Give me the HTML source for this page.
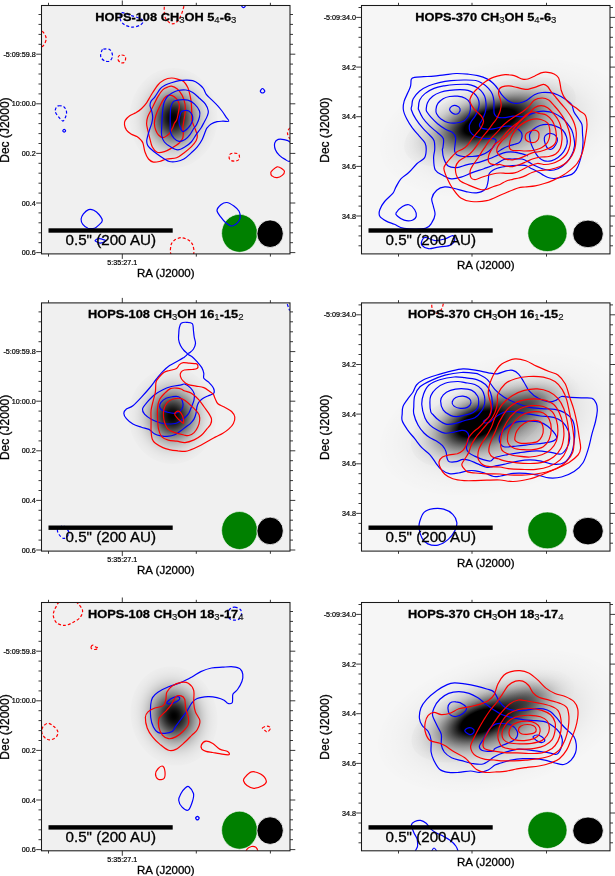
<!DOCTYPE html>
<html><head><meta charset="utf-8"><style>
html,body{margin:0;padding:0;background:#fff;width:615px;height:876px;overflow:hidden}
svg{display:block}
text{font-family:"Liberation Sans",sans-serif}
svg{will-change:transform}
</style></head><body>
<svg width="615" height="876" viewBox="0 0 615 876">
<defs>

<radialGradient id="g0"><stop offset="0.00" stop-color="#000" stop-opacity="0.380"/><stop offset="0.05" stop-color="#000" stop-opacity="0.376"/><stop offset="0.10" stop-color="#000" stop-opacity="0.363"/><stop offset="0.15" stop-color="#000" stop-opacity="0.343"/><stop offset="0.20" stop-color="#000" stop-opacity="0.317"/><stop offset="0.25" stop-color="#000" stop-opacity="0.287"/><stop offset="0.30" stop-color="#000" stop-opacity="0.253"/><stop offset="0.35" stop-color="#000" stop-opacity="0.219"/><stop offset="0.40" stop-color="#000" stop-opacity="0.185"/><stop offset="0.45" stop-color="#000" stop-opacity="0.153"/><stop offset="0.50" stop-color="#000" stop-opacity="0.123"/><stop offset="0.55" stop-color="#000" stop-opacity="0.097"/><stop offset="0.60" stop-color="#000" stop-opacity="0.075"/><stop offset="0.65" stop-color="#000" stop-opacity="0.057"/><stop offset="0.70" stop-color="#000" stop-opacity="0.042"/><stop offset="0.75" stop-color="#000" stop-opacity="0.030"/><stop offset="0.80" stop-color="#000" stop-opacity="0.021"/><stop offset="0.85" stop-color="#000" stop-opacity="0.015"/><stop offset="0.90" stop-color="#000" stop-opacity="0.010"/><stop offset="0.95" stop-color="#000" stop-opacity="0.007"/><stop offset="1.00" stop-color="#000" stop-opacity="0.004"/></radialGradient>
<radialGradient id="g1"><stop offset="0.00" stop-color="#000" stop-opacity="0.550"/><stop offset="0.05" stop-color="#000" stop-opacity="0.544"/><stop offset="0.10" stop-color="#000" stop-opacity="0.526"/><stop offset="0.15" stop-color="#000" stop-opacity="0.497"/><stop offset="0.20" stop-color="#000" stop-opacity="0.459"/><stop offset="0.25" stop-color="#000" stop-opacity="0.415"/><stop offset="0.30" stop-color="#000" stop-opacity="0.367"/><stop offset="0.35" stop-color="#000" stop-opacity="0.317"/><stop offset="0.40" stop-color="#000" stop-opacity="0.268"/><stop offset="0.45" stop-color="#000" stop-opacity="0.221"/><stop offset="0.50" stop-color="#000" stop-opacity="0.179"/><stop offset="0.55" stop-color="#000" stop-opacity="0.141"/><stop offset="0.60" stop-color="#000" stop-opacity="0.109"/><stop offset="0.65" stop-color="#000" stop-opacity="0.082"/><stop offset="0.70" stop-color="#000" stop-opacity="0.061"/><stop offset="0.75" stop-color="#000" stop-opacity="0.044"/><stop offset="0.80" stop-color="#000" stop-opacity="0.031"/><stop offset="0.85" stop-color="#000" stop-opacity="0.021"/><stop offset="0.90" stop-color="#000" stop-opacity="0.014"/><stop offset="0.95" stop-color="#000" stop-opacity="0.009"/><stop offset="1.00" stop-color="#000" stop-opacity="0.006"/></radialGradient>
<radialGradient id="g2"><stop offset="0.00" stop-color="#000" stop-opacity="1.000"/><stop offset="0.05" stop-color="#000" stop-opacity="0.989"/><stop offset="0.10" stop-color="#000" stop-opacity="0.956"/><stop offset="0.15" stop-color="#000" stop-opacity="0.904"/><stop offset="0.20" stop-color="#000" stop-opacity="0.835"/><stop offset="0.25" stop-color="#000" stop-opacity="0.755"/><stop offset="0.30" stop-color="#000" stop-opacity="0.667"/><stop offset="0.35" stop-color="#000" stop-opacity="0.576"/><stop offset="0.40" stop-color="#000" stop-opacity="0.487"/><stop offset="0.45" stop-color="#000" stop-opacity="0.402"/><stop offset="0.50" stop-color="#000" stop-opacity="0.325"/><stop offset="0.55" stop-color="#000" stop-opacity="0.256"/><stop offset="0.60" stop-color="#000" stop-opacity="0.198"/><stop offset="0.65" stop-color="#000" stop-opacity="0.149"/><stop offset="0.70" stop-color="#000" stop-opacity="0.110"/><stop offset="0.75" stop-color="#000" stop-opacity="0.080"/><stop offset="0.80" stop-color="#000" stop-opacity="0.056"/><stop offset="0.85" stop-color="#000" stop-opacity="0.039"/><stop offset="0.90" stop-color="#000" stop-opacity="0.026"/><stop offset="0.95" stop-color="#000" stop-opacity="0.017"/><stop offset="1.00" stop-color="#000" stop-opacity="0.011"/></radialGradient>
<radialGradient id="g3"><stop offset="0.00" stop-color="#000" stop-opacity="1.000"/><stop offset="0.05" stop-color="#000" stop-opacity="1.000"/><stop offset="0.10" stop-color="#000" stop-opacity="1.000"/><stop offset="0.15" stop-color="#000" stop-opacity="1.000"/><stop offset="0.20" stop-color="#000" stop-opacity="1.000"/><stop offset="0.25" stop-color="#000" stop-opacity="1.000"/><stop offset="0.30" stop-color="#000" stop-opacity="1.000"/><stop offset="0.35" stop-color="#000" stop-opacity="0.864"/><stop offset="0.40" stop-color="#000" stop-opacity="0.730"/><stop offset="0.45" stop-color="#000" stop-opacity="0.603"/><stop offset="0.50" stop-color="#000" stop-opacity="0.487"/><stop offset="0.55" stop-color="#000" stop-opacity="0.385"/><stop offset="0.60" stop-color="#000" stop-opacity="0.297"/><stop offset="0.65" stop-color="#000" stop-opacity="0.224"/><stop offset="0.70" stop-color="#000" stop-opacity="0.165"/><stop offset="0.75" stop-color="#000" stop-opacity="0.119"/><stop offset="0.80" stop-color="#000" stop-opacity="0.084"/><stop offset="0.85" stop-color="#000" stop-opacity="0.058"/><stop offset="0.90" stop-color="#000" stop-opacity="0.039"/><stop offset="0.95" stop-color="#000" stop-opacity="0.026"/><stop offset="1.00" stop-color="#000" stop-opacity="0.017"/></radialGradient>
<clipPath id="cp00"><rect x="41.5" y="5.5" width="248.5" height="248.4"/></clipPath>
<clipPath id="cp01"><rect x="361.5" y="5.5" width="248.5" height="248.4"/></clipPath>
<clipPath id="cp10"><rect x="41.5" y="302.9" width="248.5" height="248.2"/></clipPath>
<clipPath id="cp11"><rect x="361.5" y="302.9" width="248.5" height="248.2"/></clipPath>
<clipPath id="cp20"><rect x="41.5" y="602.5" width="248.5" height="248.3"/></clipPath>
<clipPath id="cp21"><rect x="361.5" y="602.5" width="248.5" height="248.3"/></clipPath>
</defs>

<rect x="41.5" y="5.5" width="248.5" height="248.4" fill="#f0f0f0"/>
<rect x="361.5" y="5.5" width="248.5" height="248.4" fill="#f6f6f6"/>
<rect x="41.5" y="302.9" width="248.5" height="248.2" fill="#f0f0f0"/>
<rect x="361.5" y="302.9" width="248.5" height="248.2" fill="#f6f6f6"/>
<rect x="41.5" y="602.5" width="248.5" height="248.3" fill="#f0f0f0"/>
<rect x="361.5" y="602.5" width="248.5" height="248.3" fill="#f6f6f6"/>
<g clip-path="url(#cp00)"><ellipse cx="173.5" cy="118.0" rx="44.0" ry="50.0" transform="rotate(0.0 173.5 118.0)" fill="url(#g2)"/></g>
<g clip-path="url(#cp01)"><ellipse cx="490.0" cy="122.0" rx="90.0" ry="36.0" transform="rotate(-19.0 490.0 122.0)" fill="url(#g3)"/></g>
<g clip-path="url(#cp01)"><ellipse cx="503.0" cy="128.0" rx="125.0" ry="66.0" transform="rotate(-12.0 503.0 128.0)" fill="url(#g0)"/></g>
<g clip-path="url(#cp10)"><ellipse cx="172.5" cy="416.0" rx="44.0" ry="48.0" transform="rotate(0.0 172.5 416.0)" fill="url(#g2)"/></g>
<g clip-path="url(#cp11)"><ellipse cx="479.0" cy="424.0" rx="72.0" ry="37.0" transform="rotate(-22.0 479.0 424.0)" fill="url(#g3)"/></g>
<g clip-path="url(#cp11)"><ellipse cx="502.0" cy="424.0" rx="125.0" ry="66.0" transform="rotate(-15.0 502.0 424.0)" fill="url(#g0)"/></g>
<g clip-path="url(#cp11)"><ellipse cx="527.0" cy="405.0" rx="55.0" ry="30.0" transform="rotate(-20.0 527.0 405.0)" fill="url(#g1)"/></g>
<g clip-path="url(#cp20)"><ellipse cx="174.0" cy="716.0" rx="43.0" ry="50.0" transform="rotate(-15.0 174.0 716.0)" fill="url(#g2)"/></g>
<g clip-path="url(#cp21)"><ellipse cx="482.0" cy="721.0" rx="74.0" ry="35.0" transform="rotate(-20.0 482.0 721.0)" fill="url(#g3)"/></g>
<g clip-path="url(#cp21)"><ellipse cx="522.0" cy="703.0" rx="55.0" ry="28.0" transform="rotate(-22.0 522.0 703.0)" fill="url(#g1)"/></g>
<g clip-path="url(#cp21)"><ellipse cx="500.0" cy="721.0" rx="125.0" ry="66.0" transform="rotate(-15.0 500.0 721.0)" fill="url(#g0)"/></g>
<ellipse cx="239.5" cy="233.3" rx="17.9" ry="19" fill="#008000" stroke="#fff" stroke-width="0.6"/>
<ellipse cx="270.1" cy="233.7" rx="13.2" ry="13.8" fill="#000" stroke="#fff" stroke-width="0.8"/>
<ellipse cx="547.4" cy="233.2" rx="19.6" ry="18.4" fill="#008000" stroke="#fff" stroke-width="0.6"/>
<ellipse cx="588.0" cy="233.9" rx="15.3" ry="13.8" fill="#000" stroke="#fff" stroke-width="0.8"/>
<ellipse cx="239.5" cy="530.5" rx="17.9" ry="19" fill="#008000" stroke="#fff" stroke-width="0.6"/>
<ellipse cx="270.1" cy="530.9" rx="13.2" ry="13.8" fill="#000" stroke="#fff" stroke-width="0.8"/>
<ellipse cx="547.4" cy="530.4" rx="19.6" ry="18.4" fill="#008000" stroke="#fff" stroke-width="0.6"/>
<ellipse cx="588.0" cy="531.1" rx="15.3" ry="13.8" fill="#000" stroke="#fff" stroke-width="0.8"/>
<ellipse cx="239.5" cy="830.2" rx="17.9" ry="19" fill="#008000" stroke="#fff" stroke-width="0.6"/>
<ellipse cx="270.1" cy="830.6" rx="13.2" ry="13.8" fill="#000" stroke="#fff" stroke-width="0.8"/>
<ellipse cx="547.4" cy="830.1" rx="19.6" ry="18.4" fill="#008000" stroke="#fff" stroke-width="0.6"/>
<ellipse cx="588.0" cy="830.8" rx="15.3" ry="13.8" fill="#000" stroke="#fff" stroke-width="0.8"/>
<path d="M124.5,124.9C124.3,123.3 124.3,121.9 125.2,120.4C126.1,118.9 127.9,117.1 129.7,115.8C131.5,114.5 134.2,113.8 136.2,112.6C138.1,111.4 139.7,110.3 141.4,108.7C143.1,107.1 145.0,105.1 146.6,102.8C148.2,100.5 149.3,98.0 151.2,95.0C153.1,92.0 155.8,87.5 157.9,85.0C160.0,82.5 161.7,81.2 164.0,80.0C166.3,78.8 169.1,78.1 171.5,78.0C173.9,77.9 176.2,78.7 178.3,79.3C180.4,79.9 182.3,80.3 183.9,81.7C185.5,83.1 186.8,85.5 187.8,87.6C188.8,89.7 189.2,92.0 189.8,94.4C190.4,96.8 190.9,99.4 191.2,102.2C191.5,105.0 191.6,108.0 191.7,111.0C191.8,114.0 191.7,118.1 191.8,120.0C191.9,121.9 191.8,120.8 192.4,122.4C193.0,124.0 194.7,127.6 195.5,129.8C196.3,132.1 197.2,134.1 197.3,135.9C197.4,137.7 197.1,138.9 196.1,140.7C195.1,142.5 193.2,144.8 191.2,146.8C189.2,148.8 186.3,151.1 183.9,152.9C181.5,154.7 179.4,156.8 176.6,157.8C173.8,158.8 169.7,158.4 166.8,159.0C164.0,159.6 161.7,161.0 159.5,161.5C157.3,162.0 155.2,162.5 153.4,162.1C151.6,161.7 149.9,160.7 148.5,159.0C147.1,157.3 145.8,154.3 144.9,151.7C144.0,149.1 143.7,145.2 143.0,143.2C142.3,141.2 141.8,141.0 140.8,139.9C139.8,138.8 138.5,137.6 136.9,136.6C135.3,135.6 132.7,135.1 131.0,134.0C129.3,132.9 127.6,131.6 126.5,130.1C125.4,128.6 124.7,126.5 124.5,124.9Z" fill="none" stroke="#ff0000" stroke-width="1.2" clip-path="url(#cp00)"/>
<path d="M171.5,86.1C173.1,86.4 175.5,87.5 177.3,89.0C179.1,90.5 180.9,92.9 182.2,95.4C183.5,97.9 184.5,101.2 185.0,104.0C185.5,106.8 185.4,109.3 185.2,112.0C185.0,114.7 184.4,117.5 184.0,120.0C183.6,122.5 183.1,125.0 183.0,127.0C182.9,129.0 183.4,130.3 183.3,132.2C183.2,134.1 183.4,136.5 182.7,138.3C182.0,140.1 180.8,141.6 179.0,143.2C177.2,144.8 174.1,146.6 171.7,148.0C169.3,149.4 166.8,151.0 164.4,151.7C162.0,152.4 159.1,153.1 157.1,152.3C155.1,151.5 153.4,149.1 152.2,146.8C151.0,144.5 150.6,141.2 149.8,138.3C149.0,135.4 148.1,132.0 147.6,129.5C147.1,127.0 146.6,125.5 146.6,123.4C146.6,121.4 146.8,119.6 147.6,117.2C148.4,114.8 150.0,112.4 151.7,109.0C153.4,105.6 156.1,99.8 157.9,96.6C159.7,93.4 161.1,91.4 162.7,89.8C164.3,88.2 166.0,87.7 167.5,87.1C169.0,86.5 169.9,85.8 171.5,86.1Z" fill="none" stroke="#ff0000" stroke-width="1.2" clip-path="url(#cp00)"/>
<path d="M168.1,95.3C169.5,94.8 170.8,95.0 172.2,95.6C173.6,96.2 175.3,97.5 176.4,98.7C177.5,99.9 178.3,101.6 178.8,103.0C179.3,104.4 179.4,105.2 179.3,107.1C179.2,109.0 178.4,112.3 178.0,114.5C177.6,116.7 177.2,118.5 176.6,120.0C176.0,121.5 174.9,122.2 174.3,123.4C173.7,124.6 173.6,125.8 172.9,127.3C172.2,128.8 171.2,130.9 170.2,132.3C169.2,133.7 168.1,134.8 166.8,135.7C165.6,136.6 164.1,137.8 162.7,137.7C161.3,137.6 159.7,136.2 158.5,135.0C157.3,133.8 156.5,132.1 155.8,130.2C155.1,128.3 154.4,125.8 154.4,123.4C154.4,121.0 155.0,118.4 155.8,115.8C156.6,113.2 157.8,110.4 159.2,107.6C160.6,104.8 162.5,100.8 164.0,98.7C165.5,96.7 166.7,95.8 168.1,95.3Z" fill="none" stroke="#ff0000" stroke-width="1.2" clip-path="url(#cp00)"/>
<path d="M165.4,85.0C167.2,84.0 169.2,83.4 171.5,82.7C173.8,82.0 176.9,81.1 179.3,80.7C181.7,80.3 183.7,80.2 185.9,80.2C188.1,80.2 190.6,80.1 192.7,80.7C194.8,81.3 196.7,82.4 198.5,83.7C200.3,85.0 202.1,86.7 203.4,88.5C204.7,90.3 205.0,92.6 206.3,94.4C207.6,96.2 209.4,97.5 211.2,99.3C213.0,101.1 215.3,103.1 217.1,105.1C218.9,107.0 220.5,109.0 222.0,111.0C223.5,113.0 224.8,115.1 225.9,116.8C227.0,118.5 229.3,120.5 228.8,121.2C228.3,121.9 224.9,121.1 222.9,121.2C220.9,121.3 219.1,121.2 217.1,121.7C215.1,122.2 212.8,123.1 211.2,124.1C209.6,125.1 208.2,126.6 207.3,127.6C206.4,128.6 206.8,128.0 205.9,130.0C205.1,132.0 203.6,136.7 202.2,139.5C200.8,142.3 199.1,144.6 197.3,146.8C195.5,149.0 193.4,150.9 191.2,152.9C189.0,154.9 186.3,157.6 183.9,159.0C181.5,160.4 179.0,161.1 176.6,161.5C174.2,161.9 171.3,161.9 169.3,161.5C167.3,161.1 166.4,160.2 164.4,159.0C162.4,157.8 159.5,155.9 157.1,154.1C154.7,152.3 151.4,149.5 149.8,148.0C148.2,146.5 148.0,146.2 147.5,145.0C147.0,143.8 146.7,142.4 146.7,141.0C146.7,139.6 147.1,138.3 147.6,136.4C148.1,134.5 148.9,131.7 149.6,129.5C150.3,127.3 151.2,125.5 151.7,123.4C152.2,121.4 152.7,119.3 152.7,117.2C152.7,115.1 152.1,113.0 151.7,111.0C151.2,109.0 150.1,107.1 150.0,105.5C149.9,103.9 150.2,102.9 151.0,101.4C151.8,99.9 153.5,98.8 155.1,96.6C156.7,94.4 158.9,90.3 160.6,88.4C162.3,86.5 163.6,86.0 165.4,85.0Z" fill="none" stroke="#0000ff" stroke-width="1.2" clip-path="url(#cp00)"/>
<path d="M178.0,90.5C180.4,90.0 183.5,89.7 185.9,90.0C188.3,90.3 190.4,91.0 192.7,92.4C195.0,93.8 197.4,96.3 199.5,98.3C201.6,100.2 203.9,102.0 205.4,104.1C206.9,106.2 208.0,109.0 208.3,111.0C208.6,113.0 208.0,114.1 207.3,115.9C206.7,117.7 205.5,119.7 204.4,121.7C203.3,123.7 202.4,125.8 201.0,128.0C199.6,130.2 197.7,132.3 196.1,134.6C194.5,136.9 193.0,140.0 191.2,142.0C189.4,144.0 187.3,145.5 185.1,146.8C182.9,148.1 180.2,149.9 177.8,149.9C175.4,149.9 172.7,148.1 170.5,146.8C168.3,145.5 165.9,144.0 164.4,142.0C162.9,140.0 162.0,137.8 161.6,135.0C161.2,132.2 161.7,128.3 161.8,125.0C161.9,121.7 162.1,117.8 162.3,115.0C162.5,112.2 162.7,110.0 163.0,108.0C163.3,106.0 163.4,104.6 164.0,102.8C164.6,101.0 165.5,98.9 166.8,97.3C168.1,95.7 169.7,94.3 171.6,93.2C173.5,92.1 175.6,91.0 178.0,90.5Z" fill="none" stroke="#0000ff" stroke-width="1.2" clip-path="url(#cp00)"/>
<path d="M173.6,101.4C175.1,100.2 177.6,100.0 180.0,99.8C182.4,99.6 185.4,99.5 187.8,100.2C190.2,100.9 192.7,102.3 194.6,104.1C196.5,105.9 198.7,108.9 199.5,111.0C200.3,113.1 200.0,114.5 199.5,116.8C199.0,119.1 197.6,122.6 196.6,124.6C195.6,126.5 194.8,126.8 193.7,128.5C192.6,130.2 191.4,132.8 190.0,134.6C188.6,136.4 186.9,138.4 185.1,139.5C183.3,140.6 180.8,141.5 179.0,141.3C177.2,141.1 175.5,139.8 174.1,138.3C172.7,136.8 171.2,134.4 170.5,132.2C169.8,130.0 170.2,127.7 170.2,125.0C170.1,122.3 170.1,118.8 170.2,115.8C170.3,112.8 170.3,109.3 170.9,106.9C171.5,104.5 172.1,102.6 173.6,101.4Z" fill="none" stroke="#0000ff" stroke-width="1.2" clip-path="url(#cp00)"/>
<path d="M179.3,117.8C179.7,116.1 180.3,113.2 181.2,112.0C182.1,110.8 183.2,110.7 184.5,110.5C185.8,110.3 187.5,110.3 188.8,111.0C190.1,111.7 191.5,113.4 192.2,114.9C192.8,116.4 192.9,118.2 192.7,119.8C192.4,121.4 191.5,123.1 190.7,124.6C189.8,126.0 188.9,127.3 187.6,128.5C186.3,129.7 183.9,131.8 182.7,131.6C181.5,131.4 180.8,128.9 180.2,127.3C179.6,125.7 179.2,123.6 179.0,122.0C178.8,120.4 178.9,119.5 179.3,117.8Z" fill="none" stroke="#0000ff" stroke-width="1.2" clip-path="url(#cp00)"/>
<path d="M121.6,12.8C123.3,12.2 127.9,14.5 130.7,15.4C133.5,16.3 136.5,17.1 138.6,18.0C140.7,18.9 143.0,19.9 143.2,21.1C143.4,22.3 141.8,24.3 139.9,25.3C138.0,26.3 134.6,27.2 132.0,27.1C129.4,27.0 126.2,25.8 124.2,24.5C122.2,23.2 120.7,21.2 120.3,19.3C119.9,17.4 119.9,13.5 121.6,12.8Z" fill="none" stroke="#0000ff" stroke-width="1.2" stroke-dasharray="3,2" clip-path="url(#cp00)"/>
<path d="M165.5,2.0C163.8,4.9 164.1,12.1 164.6,15.4C165.1,18.7 167.0,20.5 168.5,21.9C170.0,23.3 172.0,24.1 173.7,23.7C175.4,23.3 177.4,21.6 178.9,19.3C180.4,17.1 182.0,13.1 182.8,10.2C183.6,7.3 184.9,4.0 183.6,2.0C182.3,-0.0 178.0,-2.0 175.0,-2.0C172.0,-2.0 167.2,-0.9 165.5,2.0Z" fill="none" stroke="#ff0000" stroke-width="1.2" stroke-dasharray="3,2" clip-path="url(#cp00)"/>
<path d="M38.0,31.0C38.8,28.6 41.6,30.7 43.0,32.0C44.4,33.3 46.2,36.5 46.2,38.8C46.2,41.1 44.4,44.7 43.0,46.0C41.6,47.3 38.8,49.1 38.0,46.6C37.2,44.1 37.2,33.4 38.0,31.0Z" fill="none" stroke="#ff0000" stroke-width="1.2" stroke-dasharray="3,2" clip-path="url(#cp00)"/>
<path d="M103.4,49.2C104.8,48.9 108.4,48.6 109.9,49.7C111.4,50.8 112.5,53.8 112.5,55.7C112.5,57.6 111.2,60.0 109.9,60.9C108.6,61.8 106.2,61.5 104.7,60.9C103.2,60.2 101.3,58.5 100.8,57.0C100.2,55.5 101.0,53.1 101.4,51.8C101.8,50.5 102.0,49.6 103.4,49.2Z" fill="none" stroke="#0000ff" stroke-width="1.2" stroke-dasharray="3,2" clip-path="url(#cp00)"/>
<path d="M121.6,55.0C122.6,55.0 124.1,55.3 124.8,56.0C125.5,56.7 125.7,57.9 125.6,59.0C125.5,60.1 124.8,61.9 124.0,62.5C123.2,63.1 121.5,63.0 120.5,62.5C119.5,62.0 118.3,60.6 118.0,59.5C117.7,58.4 118.2,56.8 118.8,56.0C119.4,55.2 120.6,55.0 121.6,55.0Z" fill="none" stroke="#ff0000" stroke-width="1.2" stroke-dasharray="3,2" clip-path="url(#cp00)"/>
<path d="M58.6,105.8C59.9,105.7 62.5,105.8 63.8,106.7C65.1,107.6 66.0,109.7 66.4,111.2C66.8,112.7 66.5,114.2 66.0,115.8C65.5,117.4 64.2,120.7 63.1,121.0C62.0,121.3 60.5,119.2 59.2,117.7C57.9,116.2 55.8,113.6 55.3,111.9C54.8,110.2 55.8,108.3 56.3,107.3C56.8,106.3 57.4,105.9 58.6,105.8Z" fill="none" stroke="#0000ff" stroke-width="1.2" stroke-dasharray="3,2" clip-path="url(#cp00)"/>
<path d="M64.2,129.3C64.7,129.3 65.6,130.2 65.6,130.7C65.6,131.2 64.7,132.1 64.2,132.1C63.7,132.1 62.8,131.2 62.8,130.7C62.8,130.2 63.7,129.3 64.2,129.3Z" fill="none" stroke="#0000ff" stroke-width="1.2" clip-path="url(#cp00)"/>
<path d="M262.5,88.5C263.2,88.5 264.8,90.5 264.8,91.2C264.8,92.0 263.2,93.0 262.5,93.0C261.8,93.0 260.3,92.0 260.3,91.2C260.3,90.5 261.8,88.5 262.5,88.5Z" fill="none" stroke="#0000ff" stroke-width="1.2" clip-path="url(#cp00)"/>
<path d="M234.3,153.1C235.8,153.1 238.1,153.4 238.9,154.5C239.7,155.6 239.7,158.4 238.9,159.5C238.1,160.6 235.8,161.1 234.3,161.1C232.8,161.1 230.5,160.6 229.7,159.5C228.9,158.4 228.9,155.6 229.7,154.5C230.5,153.4 232.8,153.1 234.3,153.1Z" fill="none" stroke="#ff0000" stroke-width="1.2" stroke-dasharray="3,2" clip-path="url(#cp00)"/>
<path d="M290.0,142.2C288.0,140.1 286.0,140.1 284.0,139.6C282.0,139.1 279.7,138.9 278.2,139.4C276.7,139.9 275.3,141.1 274.8,142.8C274.3,144.5 274.6,147.6 275.4,149.7C276.2,151.8 277.8,153.8 279.4,155.4C281.0,157.0 283.3,158.5 285.1,159.4C286.9,160.3 288.2,162.3 290.0,161.1C291.8,159.9 296.0,155.2 296.0,152.0C296.0,148.8 292.0,144.3 290.0,142.2Z" fill="none" stroke="#0000ff" stroke-width="1.2" clip-path="url(#cp00)"/>
<path d="M290.0,128.0C289.1,128.0 287.5,131.2 287.5,133.0C287.5,134.8 289.1,138.5 290.0,138.5C290.9,138.5 293.0,134.8 293.0,133.0C293.0,131.2 290.9,128.0 290.0,128.0Z" fill="none" stroke="#ff0000" stroke-width="1.2" stroke-dasharray="3,2" clip-path="url(#cp00)"/>
<path d="M272.5,170.2C273.6,169.2 275.6,167.1 277.1,166.8C278.6,166.5 280.5,167.7 281.7,168.5C282.9,169.3 284.4,170.2 284.5,171.4C284.6,172.6 283.4,174.4 282.2,175.4C281.0,176.4 278.8,177.5 277.1,177.6C275.4,177.7 273.1,176.8 272.0,175.9C270.9,175.1 270.7,173.4 270.8,172.5C270.9,171.6 271.4,171.1 272.5,170.2Z" fill="none" stroke="#ff0000" stroke-width="1.2" clip-path="url(#cp00)"/>
<path d="M88.6,209.6C90.3,209.0 92.1,209.5 93.8,210.3C95.5,211.1 97.6,212.8 99.0,214.5C100.4,216.2 102.3,218.7 102.3,220.4C102.3,222.1 100.3,223.6 99.0,224.9C97.7,226.2 96.3,227.6 94.5,228.2C92.7,228.8 90.0,228.8 88.0,228.2C86.0,227.5 84.0,225.8 82.8,224.3C81.6,222.8 81.0,220.8 81.1,219.1C81.2,217.4 82.2,215.5 83.4,213.9C84.7,212.3 86.9,210.2 88.6,209.6Z" fill="none" stroke="#0000ff" stroke-width="1.2" clip-path="url(#cp00)"/>
<path d="M95.1,240.5C95.4,239.9 97.5,238.7 99.0,238.6C100.5,238.5 103.1,239.5 104.2,239.9C105.3,240.3 106.2,240.7 105.5,241.2C104.8,241.7 101.7,242.9 100.3,243.1C98.9,243.2 98.0,242.5 97.1,242.1C96.2,241.7 94.8,241.1 95.1,240.5Z" fill="none" stroke="#0000ff" stroke-width="1.2" clip-path="url(#cp00)"/>
<path d="M171.5,255.0C169.7,252.9 170.5,248.1 170.9,245.7C171.3,243.3 172.4,241.8 174.1,240.5C175.8,239.2 178.8,237.7 181.3,237.7C183.8,237.7 187.2,239.2 189.1,240.5C191.0,241.8 192.3,243.3 193.0,245.7C193.7,248.1 194.8,252.9 193.0,255.0C191.2,257.1 185.6,258.0 182.0,258.0C178.4,258.0 173.3,257.1 171.5,255.0Z" fill="none" stroke="#ff0000" stroke-width="1.2" stroke-dasharray="3,2" clip-path="url(#cp00)"/>
<path d="M217.0,210.6C217.0,208.6 219.3,206.2 220.9,204.8C222.5,203.5 224.6,202.3 226.8,202.5C229.0,202.7 231.9,204.6 233.9,206.1C235.9,207.6 238.1,209.4 239.1,211.3C240.1,213.2 240.4,216.0 240.2,217.8C240.0,219.6 239.2,220.9 237.8,222.3C236.4,223.7 233.9,225.9 232.0,226.0C230.1,226.1 227.9,224.5 226.1,223.0C224.2,221.5 222.4,219.2 220.9,217.1C219.4,215.0 217.0,212.6 217.0,210.6Z" fill="none" stroke="#0000ff" stroke-width="1.2" clip-path="url(#cp00)"/>
<path d="M241.5,5.6C241.5,6.1 242.8,7.6 243.5,7.6C244.2,7.6 245.5,6.1 245.5,5.6C245.5,5.1 244.2,4.5 243.5,4.5C242.8,4.5 241.5,5.1 241.5,5.6Z" fill="none" stroke="#0000ff" stroke-width="1.2" clip-path="url(#cp00)"/>
<path d="M449.6,109.2C449.7,108.1 451.1,106.6 452.2,106.0C453.3,105.4 454.8,105.2 456.1,105.6C457.4,106.0 459.6,107.3 460.0,108.6C460.4,109.8 459.6,112.2 458.7,113.1C457.8,114.0 456.0,114.3 454.8,114.2C453.6,114.1 452.5,113.3 451.6,112.5C450.7,111.7 449.5,110.3 449.6,109.2Z" fill="none" stroke="#0000ff" stroke-width="1.2" clip-path="url(#cp01)"/>
<path d="M436.0,109.2C436.2,107.5 436.7,105.1 437.9,103.4C439.1,101.7 441.2,100.0 443.1,98.8C445.1,97.6 447.2,96.9 449.6,96.5C452.0,96.1 454.8,95.9 457.4,96.2C460.0,96.5 463.1,97.1 465.2,98.2C467.3,99.3 468.9,100.9 469.8,102.7C470.7,104.5 470.6,107.0 470.4,109.2C470.2,111.4 469.6,113.8 468.5,115.7C467.4,117.7 466.0,119.7 463.9,120.9C461.8,122.1 458.8,122.7 456.1,123.0C453.4,123.3 450.3,123.2 447.8,122.5C445.3,121.8 442.9,120.5 441.0,119.1C439.1,117.6 437.4,115.4 436.6,113.8C435.8,112.2 435.8,110.9 436.0,109.2Z" fill="none" stroke="#0000ff" stroke-width="1.2" clip-path="url(#cp01)"/>
<path d="M471.5,121.0C472.4,119.5 473.8,118.3 474.8,116.6C475.9,114.9 477.1,112.9 477.8,110.8C478.5,108.7 479.2,106.1 479.2,104.0C479.2,101.9 478.7,99.9 477.8,98.1C476.9,96.3 475.5,94.5 473.9,93.2C472.3,91.9 470.3,90.9 468.0,90.3C465.7,89.7 463.1,89.7 460.0,89.7C456.9,89.7 452.9,90.0 449.6,90.4C446.4,90.8 443.3,91.3 440.5,92.3C437.7,93.3 434.9,94.5 432.7,96.2C430.5,97.9 428.6,100.5 427.5,102.7C426.4,104.9 426.3,107.7 426.2,109.2C426.1,110.8 426.2,110.7 427.0,112.0C427.8,113.3 428.9,114.8 430.7,116.8C432.5,118.8 435.1,121.6 437.6,123.7C440.1,125.8 443.0,127.8 445.5,129.3C448.0,130.8 451.0,131.2 452.7,132.6C454.4,134.0 455.2,135.6 455.6,137.5C456.0,139.4 455.3,142.1 455.1,144.3C454.9,146.6 454.3,149.2 454.6,151.0C454.9,152.8 455.6,154.2 457.1,155.1C458.6,156.0 460.9,156.3 463.4,156.5C465.9,156.7 469.3,156.7 472.2,156.5C475.1,156.3 478.2,156.0 481.0,155.1C483.8,154.2 486.7,152.7 488.8,151.2C490.9,149.7 492.5,148.1 493.7,146.3C494.9,144.5 496.3,141.7 496.1,140.4C495.9,139.1 494.7,138.8 492.7,138.5C490.7,138.2 486.8,138.9 483.9,138.5C481.0,138.1 477.4,137.1 475.1,136.0C472.8,134.9 471.2,133.4 470.2,131.7C469.2,130.0 469.1,127.6 469.3,125.8C469.5,124.0 470.6,122.5 471.5,121.0Z" fill="none" stroke="#0000ff" stroke-width="1.2" clip-path="url(#cp01)"/>
<path d="M528.0,155.9C526.9,155.5 523.7,154.3 521.4,153.7C519.1,153.1 516.5,152.4 514.1,152.2C511.7,151.9 509.2,151.8 506.8,152.2C504.4,152.6 502.4,153.3 499.5,154.4C496.6,155.5 492.6,157.5 489.2,158.8C485.8,160.1 482.6,161.4 479.0,162.4C475.4,163.4 471.0,163.7 467.3,164.6C463.6,165.5 460.2,167.3 457.0,167.6C453.8,167.8 450.4,167.6 448.2,166.1C446.0,164.6 444.9,161.5 443.9,158.8C442.9,156.1 442.5,151.9 442.4,150.0C442.2,148.1 442.9,149.2 443.0,147.3C443.1,145.4 444.2,140.9 443.3,138.5C442.4,136.1 439.9,134.9 437.6,132.8C435.3,130.7 432.1,128.4 429.6,125.9C427.1,123.4 424.6,120.7 422.8,118.0C421.0,115.3 419.5,111.7 418.8,110.0C418.1,108.3 418.2,109.6 418.4,107.9C418.5,106.2 418.6,102.5 419.7,100.1C420.8,97.7 422.5,95.5 424.9,93.6C427.3,91.6 430.8,89.7 434.0,88.4C437.2,87.1 440.7,86.5 444.4,85.8C448.1,85.1 452.2,84.7 456.1,84.5C460.0,84.3 464.9,84.1 468.0,84.4C471.1,84.7 472.7,85.4 474.8,86.4C476.9,87.4 479.1,88.7 480.7,90.3C482.3,91.9 483.7,94.0 484.6,96.1C485.5,98.2 485.8,100.5 486.0,103.0C486.2,105.5 486.0,108.5 485.6,110.8C485.2,113.1 484.3,114.9 483.6,116.6C482.9,118.3 482.2,119.7 481.5,121.0C480.8,122.3 479.6,123.4 479.5,124.5C479.4,125.6 479.8,127.0 481.0,127.8C482.2,128.6 484.5,129.0 486.8,129.2C489.1,129.3 491.8,129.2 494.6,128.7C497.5,128.2 501.0,126.7 503.9,126.3C506.8,125.9 509.4,125.9 511.7,126.3C514.0,126.7 515.9,127.6 517.5,128.7C519.1,129.8 520.7,131.1 521.4,132.6C522.1,134.1 522.2,135.9 521.9,137.5C521.6,139.1 520.7,141.3 519.5,142.4C518.3,143.5 516.6,143.7 514.6,144.3C512.6,145.0 509.9,145.5 507.8,146.3C505.7,147.1 503.7,148.2 501.9,149.2C500.1,150.2 497.8,151.9 497.0,152.5" fill="none" stroke="#0000ff" stroke-width="1.2" clip-path="url(#cp01)"/>
<path d="M411.9,105.3C412.2,103.4 411.9,101.2 413.2,98.8C414.5,96.4 417.1,93.2 419.7,91.0C422.3,88.8 425.6,87.2 428.8,85.8C432.1,84.4 435.5,83.5 439.2,82.6C442.9,81.7 446.8,81.0 450.9,80.6C455.0,80.2 459.8,80.0 463.9,80.0C468.0,80.0 472.7,79.9 475.8,80.5C478.9,81.1 480.5,82.2 482.6,83.5C484.7,84.8 486.9,86.5 488.5,88.3C490.1,90.1 491.5,92.1 492.4,94.2C493.3,96.3 493.6,98.6 493.9,101.0C494.1,103.4 493.8,106.7 493.9,108.8C494.0,110.9 493.7,112.3 494.3,113.7C494.9,115.1 495.5,116.4 497.3,117.1C499.1,117.8 502.5,117.8 505.1,117.6C507.7,117.4 510.3,116.3 512.9,116.1C515.5,115.9 518.7,116.5 520.7,116.6C522.7,116.6 523.3,116.8 525.0,116.4C526.7,116.0 528.6,114.9 530.7,114.1C532.8,113.3 535.0,112.3 537.5,111.8C540.0,111.3 542.8,111.1 545.5,111.3C548.2,111.5 550.9,112.0 553.5,113.0C556.1,114.0 559.1,115.8 561.4,117.5C563.7,119.2 565.4,121.1 567.1,123.2C568.8,125.3 570.6,127.5 571.7,130.0C572.8,132.5 573.4,135.3 573.9,138.0C574.4,140.7 574.9,143.2 574.5,146.0C574.1,148.8 573.1,152.3 571.7,155.1C570.3,157.9 568.3,160.7 566.0,163.0C563.7,165.3 560.7,167.5 558.0,168.7C555.3,169.9 552.6,170.4 550.0,170.4C547.4,170.4 544.8,169.5 542.1,168.7C539.5,167.8 536.4,166.4 534.1,165.3C531.8,164.2 530.4,163.0 528.4,161.9C526.4,160.8 524.6,159.5 522.0,159.0C519.4,158.5 515.6,158.9 512.6,159.0C509.6,159.1 506.9,158.5 503.9,159.5C500.9,160.5 497.9,163.3 494.6,164.8C491.3,166.3 487.6,167.4 483.9,168.7C480.2,170.0 476.0,171.2 472.2,172.6C468.4,174.0 464.6,176.2 461.1,177.2C457.6,178.2 454.3,179.1 451.3,178.8C448.3,178.5 445.9,177.0 443.2,175.5C440.5,174.0 436.9,172.9 435.3,170.0C433.7,167.1 433.7,161.2 433.6,157.8C433.5,154.4 434.6,152.7 434.7,149.8C434.8,147.0 435.0,143.2 434.1,140.7C433.2,138.2 431.5,137.1 429.6,135.0C427.7,132.9 425.1,130.8 422.8,128.2C420.5,125.5 417.8,122.1 415.9,119.1C414.0,116.1 412.1,112.3 411.4,110.0C410.7,107.7 411.6,107.2 411.9,105.3Z" fill="none" stroke="#0000ff" stroke-width="1.2" clip-path="url(#cp01)"/>
<path d="M404.1,101.4C404.9,98.5 406.9,94.9 408.0,92.3C409.1,89.7 410.1,88.0 410.6,85.8C411.2,83.6 410.7,80.7 411.3,79.3C411.9,77.9 412.4,77.8 414.5,77.4C416.6,77.0 420.4,76.9 423.6,76.7C426.9,76.5 430.5,76.4 434.0,76.1C437.5,75.8 440.7,75.2 444.4,74.8C448.1,74.4 452.2,73.6 456.1,73.5C460.0,73.4 464.4,73.8 468.0,74.2C471.6,74.6 474.6,74.9 477.8,75.7C481.1,76.5 484.9,77.8 487.5,79.1C490.1,80.4 491.6,81.8 493.4,83.5C495.2,85.2 496.8,87.3 498.2,89.3C499.6,91.2 500.6,93.4 502.1,95.2C503.6,97.0 505.2,98.7 507.0,100.0C508.8,101.3 510.8,102.5 512.9,103.0C515.0,103.5 517.4,103.4 519.7,103.0C522.0,102.6 524.0,101.9 526.5,100.5C529.0,99.1 531.9,96.0 534.5,94.7C537.1,93.4 539.7,92.8 542.2,92.5C544.8,92.2 547.3,92.3 549.8,92.7C552.3,93.1 554.9,93.7 557.4,94.7C559.9,95.8 562.6,97.4 565.0,99.0C567.4,100.6 570.1,102.4 571.6,104.5C573.1,106.6 572.8,109.4 573.9,111.8C575.0,114.2 577.2,116.6 578.5,118.7C579.8,120.8 581.2,121.8 581.9,124.3C582.6,126.8 582.3,130.4 582.5,133.5C582.7,136.6 583.1,139.4 583.0,142.6C582.9,145.8 582.5,149.6 581.9,152.8C581.3,156.0 580.5,159.1 579.6,161.9C578.7,164.8 577.5,167.8 576.2,169.9C574.9,172.0 573.8,173.3 571.7,174.4C569.6,175.5 566.4,176.0 563.7,176.7C561.0,177.4 558.2,178.2 555.7,178.4C553.2,178.6 551.2,178.5 548.9,177.8C546.6,177.1 544.2,175.5 542.1,174.4C540.0,173.3 538.3,172.0 536.4,171.0C534.5,170.0 532.6,169.1 530.7,168.2C528.8,167.2 528.0,165.7 525.0,165.3C522.0,164.9 517.4,165.1 512.8,165.6C508.2,166.1 501.1,166.9 497.2,168.2C493.3,169.5 490.9,171.2 489.4,173.4C487.9,175.6 488.8,178.6 488.1,181.2C487.5,183.8 487.4,187.1 485.5,189.0C483.6,190.9 479.6,192.5 476.4,192.9C473.1,193.3 469.6,192.3 466.0,191.6C462.4,190.9 458.1,189.3 454.6,188.5C451.1,187.7 447.8,186.6 444.8,186.9C441.8,187.2 438.9,188.3 436.7,190.2C434.5,192.1 432.4,195.6 431.8,198.3C431.2,201.0 432.9,203.7 433.4,206.4C433.9,209.1 435.3,211.9 435.0,214.6C434.7,217.3 433.4,220.4 431.8,222.7C430.2,225.0 429.9,227.4 425.3,228.4C420.7,229.4 409.2,229.1 404.1,228.4C399.0,227.7 397.4,225.5 394.4,224.3C391.4,223.1 388.7,222.4 386.3,221.1C383.9,219.8 380.9,218.1 379.8,216.2C378.7,214.3 379.0,212.1 379.8,209.7C380.6,207.2 382.4,204.2 384.6,201.5C386.8,198.8 390.9,195.8 392.8,193.4C394.7,191.0 394.6,189.3 396.0,186.9C397.4,184.5 398.7,181.2 400.9,178.8C403.1,176.4 406.3,174.9 409.0,172.3C411.7,169.8 414.5,165.9 417.1,163.5C419.7,161.1 423.0,160.1 424.5,157.8C426.0,155.5 426.1,152.3 426.2,149.8C426.3,147.3 426.1,145.3 425.0,143.0C423.9,140.7 421.4,138.7 419.3,136.2C417.2,133.7 414.6,131.0 412.5,128.2C410.4,125.3 408.3,122.1 406.8,119.1C405.3,116.1 403.8,113.0 403.4,110.0C402.9,107.0 403.3,104.4 404.1,101.4Z" fill="none" stroke="#0000ff" stroke-width="1.2" clip-path="url(#cp01)"/>
<path d="M544.3,138.0C544.5,136.3 545.5,135.3 546.6,134.6C547.8,133.8 549.7,133.3 551.2,133.5C552.7,133.7 554.7,134.6 555.7,135.7C556.7,136.8 557.4,138.8 557.4,140.3C557.4,141.8 556.6,143.4 555.7,144.8C554.9,146.2 553.5,148.1 552.3,148.8C551.1,149.5 549.4,149.5 548.3,148.8C547.2,148.1 546.2,146.6 545.5,144.8C544.8,143.0 544.1,139.7 544.3,138.0Z" fill="none" stroke="#0000ff" stroke-width="1.2" clip-path="url(#cp01)"/>
<path d="M529.6,134.6C530.0,132.4 531.3,131.0 533.0,129.5C534.7,128.0 537.3,126.4 539.8,125.5C542.3,124.6 545.1,124.2 547.8,124.3C550.4,124.4 553.2,125.1 555.7,126.1C558.2,127.0 560.8,128.2 562.6,130.0C564.4,131.8 565.8,134.6 566.5,136.9C567.2,139.2 567.6,141.2 567.1,143.7C566.6,146.2 565.2,149.4 563.7,151.7C562.2,154.0 560.1,155.9 558.0,157.4C555.9,158.9 553.5,160.2 551.2,160.8C548.9,161.4 546.4,161.4 544.3,160.8C542.2,160.2 540.4,159.1 538.7,157.4C537.0,155.7 535.4,153.0 534.1,150.5C532.8,148.0 531.5,145.2 530.7,142.6C530.0,139.9 529.2,136.8 529.6,134.6Z" fill="none" stroke="#0000ff" stroke-width="1.2" clip-path="url(#cp01)"/>
<path d="M396.0,212.9C396.8,211.3 400.3,207.8 402.5,206.4C404.7,205.1 407.0,204.2 409.0,204.8C411.0,205.4 413.5,207.8 414.7,209.7C415.9,211.6 416.7,214.4 416.3,216.2C415.9,217.9 414.3,219.5 412.3,220.2C410.3,220.9 406.6,220.9 404.1,220.2C401.7,219.5 399.0,217.4 397.6,216.2C396.2,215.0 395.2,214.5 396.0,212.9Z" fill="none" stroke="#0000ff" stroke-width="1.2" clip-path="url(#cp01)"/>
<path d="M422.0,240.6C422.6,239.2 423.1,237.3 425.3,237.3C427.5,237.3 431.8,240.3 435.0,240.6C438.2,240.9 441.8,239.7 444.8,238.9C447.8,238.1 451.3,235.4 452.9,235.7C454.5,236.0 455.1,239.0 454.6,240.6C454.1,242.2 452.4,244.3 449.7,245.4C447.0,246.5 441.8,246.6 438.3,247.1C434.8,247.6 431.2,249.0 428.5,248.7C425.8,248.4 423.1,246.8 422.0,245.4C420.9,244.1 421.4,241.9 422.0,240.6Z" fill="none" stroke="#0000ff" stroke-width="1.2" clip-path="url(#cp01)"/>
<path d="M443.9,168.7C443.7,166.3 444.8,165.7 445.9,163.9C447.0,162.1 448.9,160.0 450.7,158.0C452.5,156.0 454.7,153.6 456.6,152.1C458.6,150.6 460.6,150.3 462.4,149.2C464.2,148.1 465.7,147.1 467.3,145.3C468.9,143.5 470.6,140.6 472.2,138.5C473.8,136.4 475.6,134.4 477.1,132.6C478.6,130.8 479.9,129.7 481.0,127.8C482.1,126.0 483.4,123.4 483.5,121.5C483.6,119.6 482.6,118.1 481.7,116.6C480.8,115.1 479.1,114.0 477.8,112.7C476.5,111.4 475.0,110.2 473.9,108.8C472.8,107.3 471.5,105.6 470.9,104.0C470.2,102.4 469.5,101.1 470.0,99.1C470.5,97.1 472.3,94.3 473.9,92.2C475.5,90.1 477.8,88.2 479.7,86.4C481.6,84.6 483.7,82.9 485.6,81.5C487.6,80.1 489.4,79.0 491.4,78.1C493.3,77.2 495.0,76.7 497.3,76.1C499.6,75.5 502.7,74.8 505.1,74.7C507.5,74.6 509.9,74.9 511.9,75.2C513.8,75.5 515.0,75.9 516.8,76.6C518.6,77.3 520.7,78.8 522.6,79.2C524.5,79.6 526.0,79.5 528.0,79.0C530.0,78.5 532.3,77.2 534.5,76.2C536.7,75.2 538.9,73.6 541.1,72.9C543.3,72.2 545.4,72.1 547.6,72.3C549.8,72.5 552.3,73.1 554.1,74.0C555.9,74.9 557.5,76.2 558.5,77.8C559.5,79.4 559.6,81.7 560.1,83.8C560.6,85.9 560.6,88.1 561.2,90.3C561.9,92.5 562.6,94.7 564.0,96.9C565.4,99.1 567.4,101.6 569.4,103.4C571.4,105.2 574.0,106.5 575.9,107.8C577.8,109.1 578.9,110.3 580.5,111.5C582.1,112.7 584.2,113.1 585.3,115.2C586.4,117.3 586.9,121.1 587.0,124.3C587.1,127.5 586.4,131.2 585.9,134.6C585.4,138.0 584.9,141.6 584.2,144.8C583.5,148.0 583.0,150.9 581.9,153.9C580.8,156.9 579.3,160.3 577.4,163.0C575.5,165.7 573.0,167.8 570.5,169.9C568.0,172.0 565.4,173.9 562.6,175.6C559.8,177.3 556.5,178.8 553.5,180.1C550.5,181.4 547.3,182.6 544.3,183.5C541.2,184.4 538.4,185.2 535.2,185.8C532.0,186.4 527.9,186.6 525.0,187.0C522.1,187.4 521.8,186.8 518.0,188.0C514.2,189.2 507.6,192.1 502.4,194.2C497.2,196.3 492.0,199.5 486.8,200.7C481.6,201.9 475.5,201.9 471.2,201.5C466.9,201.1 463.8,200.2 460.8,198.1C457.8,196.0 455.3,192.3 453.0,189.0C450.7,185.7 448.5,181.4 447.0,178.0C445.5,174.6 444.1,171.0 443.9,168.7Z" fill="none" stroke="#ff0000" stroke-width="1.2" clip-path="url(#cp01)"/>
<path d="M499.2,89.3C499.8,88.1 500.5,87.5 502.1,86.9C503.7,86.3 506.6,85.8 509.0,85.9C511.4,86.0 514.5,86.9 516.8,87.4C519.1,87.9 520.7,88.5 522.6,88.8C524.5,89.1 525.8,89.6 528.0,89.3C530.2,89.0 533.1,87.9 535.6,87.1C538.1,86.3 541.3,84.4 543.3,84.3C545.3,84.2 546.3,85.3 547.6,86.5C548.9,87.7 549.5,89.5 550.9,91.4C552.3,93.3 554.5,95.8 556.3,98.0C558.1,100.2 560.0,102.3 561.8,104.5C563.6,106.7 565.6,108.8 567.2,111.0C568.8,113.2 570.4,115.4 571.6,117.6C572.8,119.8 573.7,121.6 574.5,124.0C575.3,126.4 576.0,129.3 576.2,132.0C576.5,134.7 576.2,137.3 576.0,140.0C575.8,142.7 575.7,145.4 575.0,148.0C574.3,150.6 573.3,153.2 572.0,155.5C570.7,157.8 569.0,160.2 567.0,162.0C565.0,163.8 562.8,165.2 560.0,166.5C557.2,167.8 553.3,168.8 550.0,169.5C546.7,170.2 543.0,170.0 540.0,170.5C537.0,171.0 534.3,171.7 532.0,172.5C529.7,173.3 528.4,174.5 526.3,175.4C524.2,176.3 521.8,177.2 519.5,177.8C517.2,178.5 515.0,178.7 512.7,179.3C510.4,179.9 508.0,180.3 505.9,181.2C503.8,182.1 502.1,183.6 500.0,184.5C497.9,185.4 495.9,185.7 493.6,186.5C491.3,187.3 488.5,189.0 486.3,189.5C484.1,190.0 483.3,190.2 480.4,189.5C477.5,188.8 472.1,186.6 468.7,185.1C465.3,183.6 462.1,182.4 460.0,180.7C457.9,179.0 457.0,177.2 456.3,174.9C455.6,172.6 455.2,169.3 455.6,167.0C456.1,164.7 457.5,162.6 459.0,161.0C460.5,159.4 462.5,158.8 464.4,157.5C466.3,156.2 468.6,154.9 470.2,153.5C471.8,152.1 472.6,151.0 474.1,149.2C475.6,147.3 477.5,144.5 479.0,142.4C480.5,140.3 481.4,138.4 482.9,136.5C484.4,134.6 486.2,132.8 487.8,130.7C489.4,128.6 491.2,125.9 492.7,123.9C494.1,122.0 495.5,120.5 496.5,119.0C497.5,117.5 497.9,116.4 498.5,115.0C499.1,113.6 499.8,112.5 500.2,110.8C500.6,109.1 501.2,106.9 501.2,104.9C501.2,103.0 500.6,100.9 500.2,99.1C499.8,97.3 498.9,95.8 498.7,94.2C498.5,92.6 498.6,90.5 499.2,89.3Z" fill="none" stroke="#ff0000" stroke-width="1.2" clip-path="url(#cp01)"/>
<path d="M507.0,122.0C509.2,120.3 512.2,118.3 514.8,116.6C517.4,114.9 520.4,113.3 522.6,111.8C524.8,110.2 526.0,109.2 528.0,107.3C530.0,105.3 532.1,101.6 534.5,100.1C536.9,98.5 539.8,98.0 542.2,98.0C544.6,98.0 546.7,98.8 548.7,100.1C550.7,101.4 552.3,103.6 554.1,105.6C555.9,107.6 558.0,109.9 559.6,112.1C561.2,114.3 562.8,116.5 564.0,118.7C565.2,120.9 566.1,122.6 567.0,125.0C567.9,127.4 568.9,130.3 569.5,133.0C570.1,135.7 570.6,138.3 570.5,141.0C570.4,143.7 569.8,146.7 569.0,149.0C568.2,151.3 567.4,153.2 565.9,155.0C564.4,156.8 562.3,158.6 560.0,160.0C557.7,161.4 554.5,162.8 552.0,163.5C549.5,164.2 547.5,164.5 545.0,164.5C542.5,164.5 539.7,163.2 537.1,163.5C534.5,163.8 531.8,165.0 529.3,166.0C526.8,167.0 524.8,168.3 522.4,169.5C520.0,170.7 517.2,172.2 514.6,172.9C512.0,173.6 509.2,173.4 506.8,173.4C504.4,173.4 502.3,172.9 500.0,173.0C497.7,173.1 495.8,173.3 492.9,174.0C490.0,174.7 485.3,176.1 482.5,177.0C479.7,177.9 477.9,179.3 476.0,179.5C474.1,179.7 472.2,179.5 471.2,178.0C470.2,176.5 469.9,172.9 470.2,170.7C470.5,168.5 471.9,166.9 473.2,164.8C474.5,162.7 476.7,159.9 478.0,158.0C479.3,156.1 479.9,154.9 481.0,153.1C482.1,151.3 483.6,149.2 484.9,147.3C486.2,145.4 487.3,143.4 488.8,141.4C490.3,139.4 492.1,137.4 493.7,135.6C495.3,133.8 497.2,132.1 498.5,130.7C499.8,129.3 500.1,128.4 501.5,127.0C502.9,125.5 504.8,123.7 507.0,122.0Z" fill="none" stroke="#ff0000" stroke-width="1.2" clip-path="url(#cp01)"/>
<path d="M518.7,122.0C520.5,120.6 521.5,119.8 523.0,118.5C524.5,117.2 526.1,116.3 528.0,114.5C529.9,112.7 532.3,109.3 534.5,107.8C536.7,106.3 538.9,105.6 541.1,105.6C543.3,105.6 545.6,106.5 547.6,107.8C549.6,109.1 551.5,111.4 553.1,113.2C554.7,115.0 556.2,116.9 557.4,118.7C558.5,120.5 559.3,122.1 560.0,124.0C560.7,125.9 561.1,127.5 561.4,130.0C561.7,132.5 562.2,136.1 562.0,139.1C561.8,142.1 561.3,145.7 560.3,148.2C559.2,150.7 557.6,152.6 555.7,154.0C553.8,155.4 551.2,156.0 548.8,156.5C546.3,157.0 543.6,156.6 541.0,157.0C538.4,157.4 535.7,158.0 533.2,158.8C530.8,159.6 528.6,160.7 526.3,161.7C524.0,162.7 521.8,163.8 519.5,164.6C517.2,165.4 515.0,166.3 512.7,166.6C510.4,166.8 508.0,166.4 505.9,166.1C503.8,165.8 501.6,164.7 500.0,164.5C498.4,164.3 498.2,164.9 496.6,164.8C495.1,164.7 492.1,164.6 490.7,163.9C489.3,163.2 488.6,162.4 488.3,160.9C488.0,159.4 488.2,157.1 488.8,155.1C489.4,153.1 490.7,151.0 491.7,149.2C492.7,147.4 493.2,145.8 494.6,144.3C496.0,142.8 498.1,142.3 500.0,140.4C501.9,138.5 504.0,135.2 506.0,133.0C508.0,130.8 509.9,128.8 512.0,127.0C514.1,125.2 516.9,123.4 518.7,122.0Z" fill="none" stroke="#ff0000" stroke-width="1.2" clip-path="url(#cp01)"/>
<path d="M531.8,111.8C534.1,111.5 537.3,112.9 539.8,113.5C542.3,114.1 544.5,114.0 546.6,115.2C548.7,116.4 550.9,118.8 552.3,120.9C553.7,123.0 554.5,125.5 555.2,127.8C555.9,130.1 556.2,132.3 556.3,134.6C556.4,136.9 556.5,139.6 556.0,141.4C555.5,143.2 554.9,144.2 553.4,145.5C551.9,146.8 549.4,148.0 547.2,149.0C545.0,150.0 542.5,150.8 540.0,151.5C537.5,152.2 534.6,152.2 532.2,152.9C529.8,153.6 527.5,155.0 525.4,155.9C523.3,156.8 521.6,157.7 519.5,158.3C517.4,159.0 515.1,159.7 512.7,159.8C510.3,159.9 507.0,159.4 504.9,158.8C502.8,158.2 501.3,157.1 500.0,156.0C498.7,154.9 497.4,153.5 497.0,152.0C496.6,150.5 496.8,148.7 497.5,147.0C498.2,145.3 499.4,143.8 501.0,142.0C502.6,140.2 504.8,138.3 507.0,136.0C509.2,133.7 511.7,130.7 514.0,128.0C516.3,125.3 519.0,122.2 521.0,120.0C523.0,117.8 524.2,116.4 526.0,115.0C527.8,113.6 529.5,112.0 531.8,111.8Z" fill="none" stroke="#ff0000" stroke-width="1.2" clip-path="url(#cp01)"/>
<path d="M525.0,122.1C527.4,120.8 530.3,119.6 533.0,119.2C535.7,118.8 538.5,118.8 541.0,119.5C543.5,120.2 546.3,121.5 547.8,123.2C549.3,125.0 549.5,127.7 549.8,130.0C550.1,132.3 549.9,134.9 549.5,137.0C549.1,139.1 548.4,141.0 547.5,142.5C546.6,144.0 545.3,145.0 544.0,146.0C542.7,147.0 541.6,147.8 539.8,148.5C538.0,149.2 535.5,150.1 533.0,150.5C530.5,150.9 527.2,151.0 525.0,151.0C522.8,151.0 521.5,150.6 519.5,150.5C517.5,150.4 514.4,150.9 512.7,150.5C511.0,150.1 509.9,149.6 509.5,148.0C509.1,146.4 509.4,143.3 510.0,141.0C510.6,138.7 511.6,136.3 513.0,134.0C514.4,131.7 516.5,129.0 518.5,127.0C520.5,125.0 522.6,123.4 525.0,122.1Z" fill="none" stroke="#ff0000" stroke-width="1.2" clip-path="url(#cp01)"/>
<path d="M529.2,131.7C530.6,131.1 532.7,130.1 534.3,130.2C535.9,130.3 537.9,131.2 538.6,132.4C539.4,133.6 539.0,136.2 538.8,137.5C538.6,138.8 538.3,139.5 537.5,140.3C536.7,141.1 535.4,142.3 533.8,142.5C532.2,142.7 529.4,142.2 528.0,141.5C526.6,140.8 525.6,139.8 525.3,138.5C525.0,137.2 525.4,135.1 526.0,134.0C526.6,132.9 527.8,132.3 529.2,131.7Z" fill="none" stroke="#ff0000" stroke-width="1.2" clip-path="url(#cp01)"/>
<path d="M452.2,402.0C452.5,400.6 454.0,398.6 455.8,397.6C457.6,396.6 460.8,396.0 463.0,396.1C465.2,396.2 467.9,397.4 469.2,398.5C470.5,399.6 471.3,401.4 471.0,402.9C470.7,404.4 469.2,406.5 467.4,407.4C465.6,408.3 462.5,408.5 460.3,408.3C458.1,408.1 455.4,407.2 454.0,406.1C452.6,405.1 451.9,403.4 452.2,402.0Z" fill="none" stroke="#0000ff" stroke-width="1.2" clip-path="url(#cp11)"/>
<path d="M440.6,401.1C440.6,398.6 441.7,396.7 443.3,394.9C444.9,393.1 447.4,391.4 450.4,390.4C453.4,389.3 457.6,388.6 461.2,388.6C464.8,388.6 469.1,389.1 471.9,390.4C474.6,391.7 476.6,394.2 477.7,396.2C478.8,398.1 478.7,400.2 478.7,402.1C478.7,404.1 478.7,406.1 477.7,407.9C476.7,409.7 474.9,411.6 472.8,412.8C470.7,414.0 467.6,414.4 465.0,415.0C462.4,415.6 459.4,416.6 457.0,416.7C454.6,416.8 452.7,416.5 450.4,415.4C448.1,414.3 444.9,412.5 443.3,410.1C441.7,407.7 440.6,403.6 440.6,401.1Z" fill="none" stroke="#0000ff" stroke-width="1.2" clip-path="url(#cp11)"/>
<path d="M429.9,402.9C429.9,400.2 429.8,398.2 430.8,395.8C431.8,393.4 433.7,390.7 436.1,388.6C438.5,386.5 441.5,384.5 445.1,383.3C448.7,382.1 454.3,381.6 457.6,381.5C460.9,381.4 462.1,382.1 465.0,382.6C467.9,383.1 472.0,383.4 474.8,384.5C477.6,385.6 480.0,387.4 481.6,389.4C483.2,391.3 484.0,393.8 484.5,396.2C485.0,398.6 485.0,401.6 484.5,404.0C484.0,406.4 483.2,408.6 481.6,410.9C480.0,413.2 477.7,416.1 474.8,417.7C471.9,419.3 467.4,419.7 464.1,420.7C460.8,421.7 458.0,422.9 455.0,423.5C452.0,424.1 448.7,424.8 445.9,424.1C443.1,423.5 440.1,421.1 438.0,419.6C435.9,418.1 434.6,416.3 433.4,415.0C432.2,413.7 431.4,413.9 430.8,411.9C430.2,409.9 429.9,405.6 429.9,402.9Z" fill="none" stroke="#0000ff" stroke-width="1.2" clip-path="url(#cp11)"/>
<path d="M421.8,404.7C421.6,400.7 422.4,397.3 423.6,394.0C424.8,390.7 426.3,387.4 429.0,385.0C431.7,382.6 435.5,381.0 439.7,379.7C443.9,378.4 449.8,377.3 454.0,377.0C458.2,376.7 461.2,377.3 465.0,377.7C468.8,378.1 473.3,378.5 476.7,379.6C480.1,380.7 483.2,382.4 485.5,384.5C487.8,386.6 489.3,389.4 490.4,392.3C491.5,395.2 492.1,398.9 492.3,402.1C492.5,405.4 492.0,409.2 491.3,411.8C490.6,414.4 489.7,416.1 488.4,417.7C487.1,419.3 483.9,420.4 483.5,421.3C483.1,422.2 484.7,422.9 485.8,423.0C486.9,423.1 488.8,422.7 490.3,421.8C491.8,420.9 492.8,419.1 495.0,417.5C497.2,415.9 500.6,413.3 503.8,412.3C507.0,411.3 510.1,411.4 514.0,411.6C517.9,411.9 522.8,413.1 527.2,413.8C531.6,414.5 536.0,415.4 540.4,416.0C544.8,416.6 549.9,416.4 553.5,417.4C557.1,418.4 559.8,419.6 562.3,421.8C564.8,424.0 567.0,427.7 568.2,430.6C569.4,433.5 569.9,436.5 569.6,439.4C569.4,442.3 568.2,445.8 566.7,448.2C565.2,450.6 563.3,453.3 560.9,454.0C558.5,454.7 555.3,453.1 552.1,452.6C548.9,452.1 545.2,451.4 541.8,451.1C538.4,450.9 535.2,450.9 531.6,451.1C528.0,451.4 524.0,452.0 519.9,452.6C515.8,453.2 510.8,454.0 506.7,454.8C502.6,455.6 497.7,456.5 495.0,457.5C492.3,458.5 492.4,460.7 490.3,461.0C488.2,461.3 485.0,460.2 482.4,459.4C479.8,458.6 476.7,457.1 474.4,456.0C472.1,454.9 470.0,453.9 468.7,452.6C467.4,451.3 466.6,449.7 466.4,448.0C466.2,446.3 467.2,444.4 467.6,442.3C468.0,440.2 468.9,437.3 468.7,435.5C468.5,433.7 467.5,432.4 466.4,431.5C465.3,430.6 464.0,430.3 461.9,430.4C459.8,430.5 456.8,431.6 453.9,432.1C451.0,432.6 447.6,433.6 444.8,433.2C442.0,432.8 439.3,431.1 436.8,429.8C434.3,428.5 432.0,427.2 430.0,425.2C428.0,423.2 426.4,421.4 425.0,418.0C423.6,414.6 422.0,408.7 421.8,404.7Z" fill="none" stroke="#0000ff" stroke-width="1.2" clip-path="url(#cp11)"/>
<path d="M413.8,406.5C413.9,403.5 413.7,399.1 414.7,395.8C415.7,392.5 417.3,389.3 420.0,386.8C422.7,384.3 426.6,382.5 430.8,380.6C435.0,378.7 440.0,376.6 445.1,375.2C450.2,373.8 456.1,372.8 461.2,372.5C466.3,372.2 472.4,373.0 475.5,373.4C478.6,373.8 477.6,373.8 479.6,374.8C481.6,375.8 484.8,377.1 487.4,379.6C490.0,382.1 492.3,386.7 495.0,389.6C497.7,392.5 500.4,394.8 503.8,397.0C507.2,399.2 511.4,401.1 515.5,402.8C519.6,404.5 524.3,406.2 528.7,407.2C533.1,408.2 537.4,408.3 541.8,408.7C546.2,409.1 551.1,408.7 555.0,409.4C558.9,410.1 562.3,411.2 565.2,413.0C568.1,414.8 571.0,417.5 572.6,420.4C574.2,423.3 574.6,427.0 574.8,430.6C575.0,434.2 574.6,438.4 574.0,442.3C573.4,446.2 572.8,450.6 571.1,454.0C569.4,457.4 566.7,461.1 563.8,462.8C560.9,464.5 557.2,464.6 553.5,464.3C549.8,464.1 545.7,462.0 541.8,461.3C537.9,460.6 534.2,459.9 530.1,459.9C526.0,459.9 521.4,460.6 517.0,461.3C512.6,462.0 507.5,463.5 503.8,464.3C500.1,465.1 497.8,465.5 495.0,466.0C492.2,466.5 489.8,467.8 486.9,467.4C484.0,467.0 480.6,465.0 477.8,463.9C475.0,462.8 472.3,461.2 469.8,460.5C467.3,459.8 465.3,459.2 463.0,459.4C460.7,459.6 458.5,461.3 456.2,461.7C453.9,462.1 450.8,462.3 449.3,461.7C447.8,461.1 447.7,460.0 447.1,458.3C446.5,456.6 446.7,453.5 445.9,451.4C445.1,449.3 444.0,447.4 442.5,445.7C441.0,444.0 438.9,442.5 436.8,441.2C434.7,439.9 432.1,439.2 430.0,437.8C427.9,436.4 426.0,435.1 424.0,433.0C422.0,430.9 419.7,428.2 418.0,425.0C416.3,421.8 414.5,417.1 413.8,414.0C413.1,410.9 413.7,409.5 413.8,406.5Z" fill="none" stroke="#0000ff" stroke-width="1.2" clip-path="url(#cp11)"/>
<path d="M402.2,413.7C402.3,411.3 402.1,408.9 403.0,406.5C403.9,404.1 405.9,401.7 407.5,399.3C409.1,396.9 411.4,394.6 412.9,392.2C414.4,389.8 414.7,387.1 416.5,385.0C418.3,382.9 420.3,381.3 423.6,379.7C426.9,378.1 431.9,376.5 436.1,375.2C440.3,373.9 444.2,372.7 448.7,371.6C453.2,370.6 458.3,369.1 463.0,368.9C467.7,368.7 472.5,369.8 476.7,370.4C480.9,371.0 485.0,372.2 488.4,372.8C491.8,373.4 494.3,374.1 497.2,373.8C500.1,373.5 503.4,371.5 506.0,370.9C508.6,370.3 510.7,369.9 512.8,370.4C514.9,370.9 516.7,372.1 518.6,374.1C520.5,376.1 522.2,379.4 524.0,382.2C525.8,385.0 526.9,388.4 529.3,391.1C531.7,393.8 535.0,396.5 538.3,398.3C541.6,400.1 546.0,401.6 549.0,401.9C552.0,402.2 554.1,401.0 556.2,400.1C558.3,399.2 559.1,396.9 561.5,396.5C563.9,396.1 567.2,397.2 570.5,397.4C573.8,397.6 577.6,397.8 581.2,397.9C584.8,398.0 589.4,397.3 591.9,398.3C594.4,399.3 595.5,401.6 596.4,403.7C597.3,405.8 597.4,407.8 597.3,410.8C597.1,413.8 596.4,417.6 595.5,421.5C594.6,425.4 593.1,429.6 591.9,434.1C590.7,438.6 589.9,443.6 588.4,448.4C586.9,453.2 585.4,458.8 583.0,462.7C580.6,466.6 577.7,469.2 574.1,471.6C570.5,474.0 565.7,475.9 561.5,477.0C557.3,478.1 552.9,478.2 549.0,477.9C545.1,477.6 542.2,475.9 538.3,475.2C534.4,474.4 530.0,473.7 525.8,473.4C521.6,473.1 517.5,473.0 513.3,473.4C509.1,473.8 504.0,475.5 500.7,476.0C497.4,476.5 496.4,477.0 493.7,476.5C491.0,476.0 487.6,473.9 484.6,473.0C481.6,472.1 478.3,471.2 475.5,470.8C472.7,470.4 470.4,470.4 467.6,470.8C464.8,471.2 461.6,472.5 458.5,473.0C455.4,473.5 452.2,474.2 449.3,473.6C446.4,473.0 443.7,471.4 441.4,469.6C439.1,467.8 437.6,465.3 435.7,462.8C433.8,460.3 432.3,457.3 430.0,454.8C427.7,452.3 424.4,450.3 421.8,447.6C419.2,444.9 417.1,441.7 414.7,438.7C412.3,435.7 409.6,432.8 407.5,429.8C405.4,426.8 403.1,423.5 402.2,420.8C401.3,418.1 402.1,416.1 402.2,413.7Z" fill="none" stroke="#0000ff" stroke-width="1.2" clip-path="url(#cp11)"/>
<path d="M499.4,440.9C498.9,438.7 499.4,435.9 500.9,433.5C502.4,431.1 505.5,428.1 508.2,426.2C510.9,424.2 513.6,422.6 517.0,421.8C520.4,421.0 525.1,421.1 528.7,421.1C532.4,421.1 535.7,421.0 538.9,421.8C542.1,422.6 544.8,423.8 547.7,426.2C550.6,428.6 555.5,434.1 556.5,436.5C557.5,438.9 555.7,439.8 553.5,440.9C551.3,442.0 547.2,442.5 543.3,443.1C539.4,443.7 534.5,444.0 530.1,444.5C525.7,445.0 521.4,445.6 517.0,446.0C512.6,446.4 506.7,447.6 503.8,446.7C500.9,445.8 499.9,443.1 499.4,440.9Z" fill="none" stroke="#0000ff" stroke-width="1.2" clip-path="url(#cp11)"/>
<path d="M419.8,521.2C420.7,518.4 422.0,514.2 424.3,512.1C426.6,510.0 430.3,509.2 433.5,508.7C436.7,508.2 440.5,508.3 443.7,509.2C446.9,510.1 450.6,512.1 452.8,514.3C455.0,516.5 456.4,519.6 456.8,522.3C457.2,525.0 456.5,527.4 455.1,530.3C453.7,533.1 451.1,536.9 448.2,539.4C445.3,541.9 441.4,544.4 438.0,545.1C434.6,545.9 430.4,545.0 427.8,543.9C425.2,542.8 423.5,540.8 422.1,538.3C420.7,535.8 419.6,532.0 419.2,529.1C418.8,526.2 418.9,524.0 419.8,521.2Z" fill="none" stroke="#0000ff" stroke-width="1.2" clip-path="url(#cp11)"/>
<path d="M431.4,300.0C430.5,301.0 431.6,301.9 431.7,303.2C431.8,304.5 431.6,306.2 432.0,307.7C432.4,309.2 433.4,311.4 434.3,312.3C435.2,313.2 436.5,313.5 437.6,313.2C438.7,312.9 439.9,311.5 440.8,310.3C441.7,309.1 442.4,307.5 442.8,305.8C443.2,304.1 444.3,301.5 443.3,300.0C442.3,298.5 439.0,297.0 437.0,297.0C435.0,297.0 432.3,299.0 431.4,300.0Z" fill="none" stroke="#ff0000" stroke-width="1.2" stroke-dasharray="3,2" clip-path="url(#cp11)"/>
<path d="M504.3,362.5C506.9,361.3 511.4,359.2 515.0,358.9C518.6,358.6 522.2,359.5 525.8,360.7C529.4,361.9 532.6,364.3 536.5,366.1C540.4,367.9 545.4,370.0 549.0,371.5C552.6,373.0 555.2,372.9 557.9,375.0C560.6,377.1 563.2,380.1 565.2,383.8C567.2,387.5 568.1,392.6 569.6,397.0C571.1,401.4 572.8,405.7 574.0,410.1C575.2,414.5 576.1,418.9 577.0,423.3C577.9,427.7 578.5,432.4 579.1,436.5C579.7,440.6 580.8,445.1 580.6,448.2C580.4,451.3 580.0,452.6 578.0,455.0C576.0,457.4 572.3,460.4 568.7,462.7C565.1,464.9 560.4,466.6 556.2,468.5C552.0,470.4 548.2,472.2 543.7,474.0C539.2,475.8 534.4,477.8 529.3,479.0C524.2,480.2 518.2,481.3 513.3,481.5C508.4,481.7 504.4,480.2 500.0,480.0C495.6,479.8 491.0,480.1 486.9,480.2C482.8,480.3 479.3,480.5 475.5,480.6C471.7,480.7 467.9,480.9 464.1,480.6C460.3,480.3 456.0,479.8 452.8,478.7C449.6,477.6 446.9,476.1 444.8,474.2C442.7,472.3 441.1,469.5 440.2,467.4C439.2,465.3 438.7,463.4 439.1,461.7C439.5,460.0 440.8,458.2 442.5,457.1C444.2,456.0 446.8,455.4 449.3,454.8C451.8,454.2 455.0,454.4 457.3,453.7C459.6,452.9 461.5,451.8 463.0,450.3C464.5,448.8 465.4,446.7 466.4,444.6C467.3,442.5 467.6,439.9 468.7,437.8C469.8,435.7 471.5,433.8 473.2,432.1C474.9,430.4 477.0,429.2 478.9,427.5C480.8,425.8 482.8,423.6 484.5,421.6C486.2,419.6 488.3,417.8 489.4,415.7C490.5,413.6 491.1,411.2 491.3,408.9C491.5,406.6 490.9,404.5 490.4,402.1C489.9,399.7 488.6,396.8 488.4,394.3C488.1,391.9 488.4,389.8 488.9,387.4C489.4,384.9 490.2,382.2 491.3,379.6C492.4,377.0 493.8,374.1 495.2,371.8C496.6,369.5 498.0,367.6 499.5,366.0C501.0,364.4 501.7,363.7 504.3,362.5Z" fill="none" stroke="#ff0000" stroke-width="1.2" clip-path="url(#cp11)"/>
<path d="M497.9,394.0C499.2,391.3 502.3,386.4 505.2,383.8C508.1,381.2 511.6,379.9 515.5,378.7C519.4,377.5 524.1,376.8 528.7,376.5C533.3,376.2 538.9,376.3 543.3,377.2C547.7,378.1 551.8,379.5 555.0,381.6C558.2,383.7 560.3,386.6 562.3,389.6C564.2,392.7 565.5,396.0 566.7,399.9C567.9,403.8 568.6,408.4 569.6,413.0C570.6,417.6 571.9,423.1 572.6,427.7C573.3,432.3 574.0,436.8 574.0,440.9C574.0,445.0 573.8,449.2 572.6,452.6C571.4,456.0 569.4,458.6 566.7,461.3C564.0,464.0 560.6,466.8 556.5,468.7C552.4,470.6 546.9,471.9 541.8,473.0C536.7,474.1 531.1,474.7 525.7,475.0C520.3,475.3 513.9,475.2 509.6,475.0C505.3,474.8 503.8,474.2 500.0,474.0C496.2,473.8 491.0,474.0 486.9,473.8C482.8,473.6 478.7,473.3 475.5,473.0C472.3,472.7 469.7,472.8 467.6,471.9C465.5,471.0 463.9,468.7 463.0,467.4C462.1,466.1 461.5,465.4 461.9,463.9C462.3,462.4 464.2,460.2 465.3,458.3C466.4,456.4 467.8,454.7 468.7,452.6C469.6,450.5 469.9,448.2 471.0,445.7C472.1,443.2 473.8,440.3 475.5,437.8C477.2,435.3 479.3,433.2 481.2,430.9C483.1,428.6 485.0,426.4 486.9,424.1C488.8,421.8 491.0,420.0 492.6,417.3C494.2,414.6 495.7,410.9 496.5,408.0C497.3,405.1 497.3,402.3 497.5,400.0C497.7,397.7 496.6,396.7 497.9,394.0Z" fill="none" stroke="#ff0000" stroke-width="1.2" clip-path="url(#cp11)"/>
<path d="M495.0,417.4C496.8,413.6 499.4,407.9 502.3,404.3C505.2,400.7 508.9,397.8 512.6,395.5C516.3,393.2 520.2,391.5 524.3,390.4C528.4,389.3 533.3,388.7 537.4,388.9C541.5,389.1 545.7,390.2 549.1,391.8C552.5,393.4 555.5,395.6 557.9,398.4C560.3,401.2 562.2,404.8 563.8,408.7C565.4,412.6 566.5,417.2 567.4,421.8C568.2,426.4 569.0,431.9 568.9,436.5C568.8,441.1 568.2,445.7 566.7,449.6C565.2,453.5 563.0,457.1 560.1,459.9C557.2,462.7 553.1,464.9 549.1,466.5C545.1,468.1 540.6,468.9 536.0,469.4C531.4,469.9 525.9,469.5 521.3,469.4C516.7,469.3 511.8,469.1 508.2,468.7C504.6,468.3 502.8,467.3 500.0,467.0C497.2,466.7 494.2,467.1 491.5,466.8C488.8,466.5 485.6,466.2 483.5,465.1C481.4,464.1 479.8,462.0 478.9,460.5C477.9,459.0 477.8,457.9 477.8,456.0C477.8,454.1 478.1,451.4 478.9,449.1C479.7,446.8 481.1,444.6 482.4,442.3C483.7,440.0 485.4,438.1 486.9,435.5C488.4,432.9 490.1,430.0 491.5,427.0C492.9,424.0 493.2,421.2 495.0,417.4Z" fill="none" stroke="#ff0000" stroke-width="1.2" clip-path="url(#cp11)"/>
<path d="M499.4,421.8C501.3,418.3 503.8,413.4 506.7,410.1C509.6,406.8 513.1,403.9 517.0,402.1C520.9,400.3 525.7,399.5 530.1,399.1C534.5,398.7 539.4,399.0 543.3,399.9C547.2,400.8 550.8,402.1 553.5,404.3C556.2,406.5 557.8,409.6 559.4,413.0C561.0,416.4 562.4,420.9 563.1,424.8C563.8,428.7 564.2,432.6 563.8,436.5C563.4,440.4 562.6,444.8 560.9,448.2C559.2,451.6 556.4,454.7 553.5,457.0C550.6,459.3 547.2,461.0 543.3,462.1C539.4,463.2 534.5,463.4 530.1,463.5C525.7,463.6 521.4,463.3 517.0,462.8C512.6,462.3 506.9,461.3 503.8,460.6C500.7,459.9 500.2,459.4 498.3,458.8C496.4,458.2 494.1,458.1 492.6,457.1C491.1,456.1 489.8,454.3 489.2,452.6C488.6,450.9 488.8,449.0 489.2,446.9C489.6,444.8 490.4,442.6 491.5,440.0C492.6,437.4 494.2,434.0 495.5,431.0C496.8,428.0 497.5,425.3 499.4,421.8Z" fill="none" stroke="#ff0000" stroke-width="1.2" clip-path="url(#cp11)"/>
<path d="M500.9,437.9C501.3,434.2 502.1,431.3 503.8,427.7C505.5,424.1 508.4,419.2 511.1,416.0C513.8,412.8 516.5,410.4 519.9,408.7C523.3,407.0 527.7,406.1 531.6,405.7C535.5,405.3 539.9,405.5 543.3,406.5C546.7,407.5 549.9,409.3 552.1,411.6C554.3,413.9 555.5,417.2 556.5,420.4C557.5,423.6 557.9,427.2 557.9,430.6C557.9,434.0 557.7,437.7 556.5,440.9C555.3,444.1 553.1,447.3 550.6,449.6C548.1,451.9 545.2,453.6 541.8,454.8C538.4,456.0 534.0,456.8 530.1,457.0C526.2,457.2 522.0,456.7 518.4,456.2C514.8,455.7 511.0,455.1 508.2,454.0C505.4,452.9 502.8,452.3 501.6,449.6C500.4,446.9 500.5,441.5 500.9,437.9Z" fill="none" stroke="#ff0000" stroke-width="1.2" clip-path="url(#cp11)"/>
<path d="M507.4,439.4C507.4,437.1 507.5,433.8 508.9,430.6C510.2,427.4 512.9,423.2 515.5,420.4C518.1,417.6 521.1,415.3 524.3,413.8C527.5,412.3 531.3,411.7 534.5,411.6C537.7,411.5 540.9,411.8 543.3,413.0C545.7,414.2 547.8,416.2 549.1,418.9C550.4,421.6 551.3,425.7 551.3,429.1C551.3,432.5 550.4,436.5 549.1,439.4C547.8,442.3 546.0,445.0 543.3,446.7C540.6,448.4 536.4,449.1 533.0,449.6C529.6,450.1 526.0,449.8 522.8,449.6C519.6,449.4 516.3,449.1 514.0,448.2C511.7,447.3 510.0,446.0 508.9,444.5C507.8,443.0 507.4,441.7 507.4,439.4Z" fill="none" stroke="#ff0000" stroke-width="1.2" clip-path="url(#cp11)"/>
<path d="M514.8,437.9C515.0,436.2 515.4,433.0 517.0,430.6C518.6,428.2 521.6,425.0 524.3,423.3C527.0,421.6 530.3,420.6 533.0,420.4C535.7,420.1 538.7,420.4 540.4,421.8C542.1,423.2 543.1,426.7 543.3,429.1C543.5,431.6 542.8,434.4 541.8,436.5C540.8,438.6 539.6,440.5 537.4,441.6C535.2,442.7 531.6,442.9 528.7,443.1C525.8,443.4 522.1,443.5 519.9,443.1C517.7,442.7 516.4,441.8 515.5,440.9C514.6,440.0 514.5,439.6 514.8,437.9Z" fill="none" stroke="#ff0000" stroke-width="1.2" clip-path="url(#cp11)"/>
<path d="M419.4,718.3C419.2,715.4 419.7,711.2 420.9,708.0C422.1,704.8 424.0,702.2 426.7,699.3C429.4,696.4 433.6,693.0 437.0,690.5C440.4,688.0 444.3,685.9 447.2,684.6C450.1,683.3 451.6,683.0 454.5,682.9C457.4,682.8 461.1,683.4 464.8,683.9C468.5,684.4 472.9,685.2 476.5,686.1C480.1,687.0 483.8,688.0 486.7,689.0C489.6,690.0 491.9,689.9 494.0,692.0C496.1,694.1 497.5,699.0 499.4,701.6C501.3,704.2 502.8,705.9 505.2,707.4C507.6,708.9 510.8,709.9 514.0,710.4C517.2,710.9 520.9,710.6 524.3,710.4C527.7,710.1 531.3,709.1 534.5,708.9C537.7,708.6 540.6,708.4 543.3,708.9C546.0,709.4 548.4,710.3 550.6,711.8C552.8,713.3 554.5,715.5 556.5,717.7C558.5,719.9 560.3,722.8 562.3,725.0C564.2,727.2 566.2,728.9 568.2,730.9C570.2,732.9 572.7,734.5 574.0,736.7C575.3,738.9 576.0,741.3 576.2,744.0C576.5,746.7 576.4,750.1 575.5,752.8C574.6,755.5 573.1,758.1 571.1,760.1C569.1,762.1 566.5,764.0 563.8,764.5C561.1,765.0 558.2,763.7 555.0,763.0C551.8,762.3 548.2,760.8 544.8,760.1C541.4,759.4 538.2,758.9 534.5,758.7C530.8,758.5 526.7,758.5 522.8,758.7C518.9,758.9 514.8,759.4 511.1,760.1C507.5,760.8 503.6,762.2 500.9,763.0C498.2,763.8 497.1,763.8 495.0,765.0C492.9,766.2 490.8,768.8 488.2,770.0C485.6,771.2 482.3,772.2 479.4,772.4C476.5,772.6 474.0,771.0 470.6,771.0C467.2,771.0 462.5,772.2 458.9,772.4C455.2,772.6 451.9,772.9 448.7,772.4C445.5,771.9 442.3,771.5 439.9,769.5C437.4,767.5 435.5,763.6 434.0,760.7C432.5,757.8 431.6,755.4 431.1,752.0C430.6,748.6 431.6,743.6 431.1,740.2C430.6,736.8 429.7,733.9 428.2,731.5C426.7,729.1 423.8,727.8 422.3,725.6C420.8,723.4 419.6,721.2 419.4,718.3Z" fill="none" stroke="#0000ff" stroke-width="1.2" clip-path="url(#cp21)"/>
<path d="M432.6,715.4C432.1,712.5 432.8,710.7 434.0,708.0C435.2,705.3 437.4,701.7 439.9,699.3C442.3,696.9 445.5,694.7 448.7,693.4C451.9,692.1 455.5,691.7 458.9,691.7C462.3,691.7 465.9,692.4 469.1,693.4C472.3,694.4 475.2,696.1 477.9,697.8C480.6,699.5 482.5,701.7 485.2,703.7C487.9,705.7 491.1,708.1 494.0,710.0C496.9,711.9 499.2,713.5 502.3,714.8C505.4,716.1 508.9,716.9 512.6,717.7C516.3,718.6 520.4,719.4 524.3,719.9C528.2,720.4 532.4,720.2 536.0,720.6C539.6,721.0 543.3,721.1 546.2,722.1C549.1,723.1 551.3,724.8 553.5,726.5C555.7,728.2 557.9,730.1 559.4,732.3C560.9,734.5 562.0,736.9 562.3,739.6C562.5,742.3 561.9,746.0 560.9,748.4C559.9,750.8 558.5,753.6 556.5,754.3C554.5,755.0 552.0,753.3 549.1,752.8C546.2,752.3 542.3,751.9 538.9,751.4C535.5,750.9 532.1,750.3 528.7,749.9C525.3,749.5 521.8,748.9 518.4,749.1C515.0,749.4 511.4,750.5 508.2,751.4C505.0,752.3 501.8,753.4 499.4,754.3C497.0,755.2 496.6,755.4 494.0,757.0C491.4,758.6 487.2,762.6 483.8,763.7C480.4,764.8 477.2,764.2 473.5,763.7C469.8,763.2 465.4,761.7 461.8,760.7C458.2,759.7 454.5,759.2 451.6,757.8C448.7,756.3 446.0,754.2 444.3,752.0C442.6,749.8 441.8,747.5 441.3,744.6C440.8,741.7 442.0,737.6 441.3,734.4C440.6,731.2 438.4,728.8 437.0,725.6C435.6,722.4 433.1,718.3 432.6,715.4Z" fill="none" stroke="#0000ff" stroke-width="1.2" clip-path="url(#cp21)"/>
<path d="M447.9,708.0C447.9,706.0 448.8,703.9 450.1,702.9C451.5,701.9 453.8,701.6 456.0,701.9C458.2,702.1 461.6,703.2 463.3,704.4C465.1,705.5 466.5,707.3 466.5,708.8C466.5,710.3 465.1,711.9 463.3,713.2C461.6,714.5 458.2,716.3 456.0,716.5C453.8,716.7 451.5,716.0 450.1,714.6C448.8,713.2 447.9,710.0 447.9,708.0Z" fill="none" stroke="#0000ff" stroke-width="1.2" clip-path="url(#cp21)"/>
<path d="M464.8,730.7C464.7,729.6 466.9,728.0 468.4,727.8C469.8,727.6 472.6,728.4 473.5,729.3C474.4,730.1 474.2,732.0 473.5,732.9C472.8,733.8 470.6,734.8 469.1,734.4C467.7,734.0 464.9,731.8 464.8,730.7Z" fill="none" stroke="#0000ff" stroke-width="1.2" clip-path="url(#cp21)"/>
<path d="M479.4,746.1C479.6,744.1 482.1,741.7 483.8,738.8C485.5,735.9 487.7,731.0 489.6,728.5C491.6,726.0 493.4,724.9 495.5,724.1C497.6,723.3 499.7,723.4 502.3,723.5C504.9,723.6 508.7,723.8 511.1,725.0C513.6,726.2 516.0,728.9 517.0,730.9C518.0,732.9 517.7,735.0 517.0,736.7C516.3,738.4 514.8,739.8 512.6,741.1C510.4,742.5 506.7,743.6 503.8,744.8C500.9,746.0 496.9,747.3 495.0,748.4C493.1,749.5 494.7,750.9 492.6,751.2C490.5,751.6 484.5,751.4 482.3,750.5C480.1,749.6 479.1,748.1 479.4,746.1Z" fill="none" stroke="#0000ff" stroke-width="1.2" clip-path="url(#cp21)"/>
<path d="M533.1,736.7C533.6,736.1 536.0,735.0 537.4,735.0C538.8,735.0 540.6,735.8 541.8,736.7C543.0,737.6 544.8,739.4 544.8,740.4C544.8,741.4 543.0,742.5 541.8,742.6C540.6,742.7 538.6,741.7 537.4,741.1C536.2,740.5 535.2,739.6 534.5,738.9C533.8,738.2 532.6,737.4 533.1,736.7Z" fill="none" stroke="#0000ff" stroke-width="1.2" clip-path="url(#cp21)"/>
<path d="M411.4,824.9C411.6,823.1 413.3,822.2 414.8,821.5C416.3,820.8 418.6,820.1 420.5,820.4C422.4,820.7 424.5,821.8 426.2,823.2C427.9,824.6 429.0,827.3 430.7,828.9C432.4,830.5 434.3,831.7 436.4,832.9C438.5,834.1 441.0,835.1 443.3,836.3C445.6,837.5 448.0,838.7 450.1,840.3C452.2,841.9 454.5,844.2 455.8,846.0C457.1,847.8 457.6,849.3 458.0,851.0C458.4,852.7 464.7,855.2 458.0,856.0C451.3,856.8 424.3,857.7 417.6,856.0C410.9,854.3 417.7,848.8 417.6,846.0C417.5,843.2 417.8,841.4 417.1,839.1C416.5,836.8 414.6,834.7 413.7,832.3C412.8,829.9 411.2,826.7 411.4,824.9Z" fill="none" stroke="#0000ff" stroke-width="1.2" clip-path="url(#cp21)"/>
<path d="M431.5,851.5C431.9,850.9 433.1,848.0 434.0,848.0C434.9,848.0 436.5,850.9 437.0,851.5" fill="none" stroke="#0000ff" stroke-width="1.2" clip-path="url(#cp21)"/>
<path d="M434.0,712.4C436.2,712.3 438.6,714.5 441.3,714.6C444.0,714.7 447.2,714.2 450.1,713.2C453.0,712.2 455.5,709.9 458.9,708.8C462.3,707.7 467.2,707.3 470.6,706.6C474.0,705.9 476.5,705.4 479.4,704.4C482.3,703.4 485.8,702.3 488.2,700.7C490.6,699.1 492.4,697.7 494.0,694.9C495.6,692.1 496.3,687.3 497.9,684.0C499.5,680.7 501.6,677.3 503.8,675.2C506.0,673.1 508.4,672.4 511.1,671.6C513.8,670.8 517.0,670.4 519.9,670.6C522.8,670.8 525.8,671.5 528.7,673.0C531.6,674.5 534.5,677.0 537.4,679.6C540.3,682.2 543.3,686.1 546.2,688.4C549.1,690.7 551.8,692.1 555.0,693.5C558.2,694.9 562.0,695.1 565.2,696.5C568.4,697.9 571.9,699.5 574.0,701.6C576.1,703.7 577.1,706.2 577.7,708.9C578.3,711.6 578.1,714.5 577.7,717.7C577.3,720.9 576.6,724.2 575.5,727.9C574.4,731.5 572.6,735.9 571.1,739.6C569.6,743.3 568.7,746.7 566.7,749.9C564.8,753.1 562.1,756.5 559.4,758.7C556.7,760.9 554.0,761.8 550.6,763.0C547.2,764.2 542.8,765.3 538.9,766.0C535.0,766.7 530.9,766.9 527.2,767.4C523.6,767.9 520.4,768.3 517.0,768.9C513.6,769.5 510.4,770.6 506.7,771.1C503.0,771.6 498.6,771.8 495.0,772.0C491.4,772.2 488.3,772.8 485.2,772.4C482.1,772.0 478.9,771.0 476.5,769.5C474.1,768.0 472.6,765.7 470.6,763.7C468.7,761.8 467.5,759.8 464.8,757.8C462.1,755.8 457.7,754.0 454.5,752.0C451.3,750.0 448.1,747.6 445.7,746.1C443.3,744.6 442.6,744.2 439.9,743.2C437.2,742.2 432.1,742.2 429.6,740.2C427.2,738.2 425.9,734.4 425.2,731.5C424.5,728.6 424.7,725.4 425.2,722.7C425.7,720.0 426.7,717.1 428.2,715.4C429.7,713.7 431.8,712.5 434.0,712.4Z" fill="none" stroke="#ff0000" stroke-width="1.2" clip-path="url(#cp21)"/>
<path d="M470.6,746.1C470.8,743.9 472.3,741.5 473.5,738.8C474.7,736.1 476.2,733.2 477.9,730.0C479.6,726.8 481.9,723.0 483.8,719.8C485.8,716.6 487.4,714.0 489.6,711.0C491.8,708.0 494.9,704.8 497.0,702.0C499.1,699.2 500.4,697.0 502.3,694.3C504.2,691.5 506.0,687.7 508.2,685.5C510.4,683.3 513.1,681.8 515.5,681.1C517.9,680.4 520.6,680.4 522.8,681.1C525.0,681.8 527.0,683.5 528.7,685.5C530.4,687.5 531.4,690.8 533.1,692.8C534.8,694.8 536.2,696.0 538.9,697.2C541.6,698.4 545.7,699.1 549.1,700.1C552.5,701.1 556.5,701.9 559.4,703.1C562.3,704.3 565.1,705.2 566.7,707.4C568.3,709.6 568.6,712.8 568.9,716.2C569.1,719.6 568.8,724.0 568.2,727.9C567.6,731.8 566.7,735.9 565.2,739.6C563.7,743.3 561.8,747.2 559.4,749.9C557.0,752.6 554.0,754.2 550.6,755.7C547.2,757.2 543.0,758.0 538.9,758.7C534.8,759.4 529.9,759.7 525.7,760.1C521.6,760.5 517.6,760.8 514.0,760.9C510.4,761.0 507.1,761.0 503.8,760.9C500.5,760.8 497.1,760.3 494.0,760.0C490.9,759.7 488.1,759.9 485.2,759.3C482.3,758.7 478.7,757.5 476.5,756.3C474.3,755.1 473.1,753.7 472.1,752.0C471.1,750.3 470.4,748.3 470.6,746.1Z" fill="none" stroke="#ff0000" stroke-width="1.2" clip-path="url(#cp21)"/>
<path d="M483.1,746.1C482.9,744.6 483.0,742.6 483.8,740.2C484.6,737.8 486.5,734.4 488.2,731.5C489.9,728.6 491.9,725.8 494.0,722.7C496.1,719.6 498.4,716.1 501.0,713.0C503.6,709.9 506.7,706.2 509.6,704.0C512.5,701.8 515.5,700.5 518.4,700.0C521.3,699.5 523.8,700.5 527.2,701.0C530.6,701.5 535.0,702.3 538.9,703.1C542.8,703.9 547.4,704.8 550.6,706.0C553.8,707.2 556.2,708.2 557.9,710.4C559.6,712.6 560.4,715.8 560.9,719.2C561.4,722.6 561.4,727.2 560.9,730.9C560.4,734.5 559.4,738.2 557.9,741.1C556.4,744.0 554.8,746.5 552.1,748.4C549.4,750.3 545.7,751.9 541.8,752.8C537.9,753.6 532.8,753.5 528.7,753.5C524.6,753.5 520.7,752.9 517.0,752.8C513.3,752.7 510.5,753.1 506.7,752.8C502.9,752.5 497.6,751.8 494.0,751.2C490.4,750.6 487.0,749.9 485.2,749.0C483.4,748.1 483.3,747.6 483.1,746.1Z" fill="none" stroke="#ff0000" stroke-width="1.2" clip-path="url(#cp21)"/>
<path d="M498.0,733.0C498.4,730.2 499.3,726.2 501.0,723.0C502.7,719.8 505.3,716.2 508.2,714.0C511.1,711.8 514.8,710.4 518.4,709.5C522.0,708.6 526.2,708.4 530.1,708.5C534.0,708.6 538.4,709.4 541.8,710.4C545.2,711.4 548.4,712.8 550.6,714.8C552.8,716.8 554.3,719.4 555.0,722.1C555.7,724.8 555.5,728.0 555.0,730.9C554.5,733.8 553.8,737.2 552.1,739.6C550.4,742.0 547.7,744.0 544.8,745.5C541.9,747.0 538.2,747.8 534.5,748.4C530.8,749.0 526.7,749.0 522.8,749.1C518.9,749.2 514.6,749.5 511.1,749.1C507.6,748.7 504.1,748.0 502.0,746.5C499.9,745.0 499.2,742.2 498.5,740.0C497.8,737.8 497.6,735.8 498.0,733.0Z" fill="none" stroke="#ff0000" stroke-width="1.2" clip-path="url(#cp21)"/>
<path d="M502.0,733.0C502.2,730.7 503.5,727.8 505.0,725.5C506.5,723.2 508.6,720.8 511.1,719.2C513.6,717.6 516.7,716.6 519.9,716.0C523.1,715.4 526.7,715.2 530.1,715.3C533.5,715.4 537.5,715.8 540.4,716.7C543.2,717.7 545.7,719.1 547.2,721.0C548.7,722.9 549.4,725.5 549.4,727.9C549.4,730.3 548.5,733.1 547.2,735.2C545.9,737.3 544.4,739.2 541.8,740.6C539.2,742.0 535.2,742.8 531.6,743.3C528.0,743.8 523.6,743.8 519.9,743.8C516.2,743.8 512.3,743.7 509.6,743.0C506.9,742.3 504.8,741.2 503.5,739.5C502.2,737.8 501.8,735.3 502.0,733.0Z" fill="none" stroke="#ff0000" stroke-width="1.2" clip-path="url(#cp21)"/>
<path d="M509.0,732.0C509.2,730.3 509.7,728.1 511.0,726.5C512.3,724.9 514.3,723.5 517.0,722.6C519.7,721.7 524.1,721.1 527.2,721.2C530.3,721.3 533.4,722.1 535.5,723.2C537.6,724.3 539.2,726.0 539.8,727.9C540.4,729.8 540.2,732.7 539.2,734.5C538.2,736.3 536.5,737.6 534.0,738.6C531.5,739.6 527.6,740.4 524.3,740.6C521.0,740.8 516.4,740.3 514.0,739.6C511.6,738.9 510.8,737.8 510.0,736.5C509.2,735.2 508.8,733.7 509.0,732.0Z" fill="none" stroke="#ff0000" stroke-width="1.2" clip-path="url(#cp21)"/>
<path d="M518.5,730.5C518.3,729.2 519.5,727.0 521.0,726.0C522.5,725.0 525.1,724.5 527.2,724.5C529.3,724.5 532.0,725.0 533.5,725.8C535.0,726.6 536.0,728.2 536.2,729.4C536.4,730.6 535.8,732.0 534.5,732.8C533.2,733.6 530.8,734.0 528.7,734.2C526.6,734.4 523.7,734.6 522.0,734.0C520.3,733.4 518.7,731.8 518.5,730.5Z" fill="none" stroke="#ff0000" stroke-width="1.2" clip-path="url(#cp21)"/>
<path d="M187.4,354.0C187.5,352.8 185.2,351.9 184.0,350.5C182.8,349.1 181.4,347.3 180.5,345.5C179.6,343.7 178.9,341.6 178.6,339.5C178.3,337.4 178.7,334.9 178.8,333.0C178.9,331.1 178.9,329.6 179.3,328.0C179.7,326.4 180.0,324.2 181.2,323.3C182.4,322.4 184.6,322.2 186.4,322.3C188.2,322.4 191.1,322.3 192.3,323.6C193.5,324.9 193.1,327.8 193.4,330.0C193.7,332.2 193.8,334.8 194.2,337.0C194.5,339.2 195.6,341.4 195.5,343.4C195.4,345.4 194.4,347.5 193.5,349.0C192.6,350.5 191.0,351.7 190.0,352.5C189.0,353.3 187.1,353.3 187.4,354.0C187.8,354.7 190.5,355.5 192.1,356.8C193.7,358.1 195.4,359.9 197.0,361.7C198.6,363.5 200.7,365.7 201.8,367.6C202.9,369.6 203.5,371.6 203.8,373.4C204.1,375.2 203.0,376.8 203.8,378.3C204.6,379.8 207.1,380.6 208.7,382.2C210.3,383.8 212.5,385.9 213.3,387.8C214.2,389.7 214.7,391.9 213.8,393.3C212.9,394.7 209.7,395.1 207.8,396.0C205.9,396.9 203.9,397.7 202.4,398.8C200.9,399.9 199.6,401.0 198.7,402.4C197.8,403.8 197.3,405.2 196.9,407.0C196.5,408.8 196.5,411.4 196.0,413.4C195.5,415.4 195.0,417.2 194.1,418.9C193.2,420.6 191.8,422.1 190.5,423.4C189.2,424.7 187.6,425.5 186.0,426.7C184.4,427.9 183.1,429.1 181.2,430.5C179.3,431.9 177.0,433.8 174.7,434.8C172.4,435.8 169.5,436.2 167.2,436.4C164.9,436.6 163.0,436.2 160.8,435.8C158.7,435.4 156.3,434.8 154.3,433.7C152.3,432.6 151.1,430.5 149.0,429.4C146.9,428.3 144.2,428.1 141.5,427.2C138.8,426.3 135.4,425.4 132.9,424.0C130.4,422.6 127.9,420.5 126.4,418.7C124.9,416.9 123.8,414.9 123.8,413.3C123.8,411.7 124.9,410.2 126.4,409.0C127.9,407.8 130.4,407.8 132.9,405.8C135.4,403.8 138.7,400.2 141.5,397.2C144.3,394.1 147.5,390.5 150.0,387.5C152.5,384.5 154.3,381.7 156.5,379.0C158.7,376.3 160.7,373.6 162.9,371.4C165.1,369.2 167.3,367.2 169.6,365.6C171.9,364.0 174.2,363.0 176.5,361.7C178.8,360.4 181.5,359.1 183.3,357.8C185.1,356.5 187.3,355.2 187.4,354.0Z" fill="none" stroke="#0000ff" stroke-width="1.2" clip-path="url(#cp10)"/>
<path d="M142.5,409.0C142.8,407.0 144.8,404.9 146.8,402.6C148.8,400.3 151.6,397.1 154.3,395.0C157.0,392.9 160.0,391.1 162.9,389.7C165.8,388.3 168.4,387.3 171.5,386.5C174.6,385.7 178.9,385.3 181.2,384.9C183.4,384.5 183.4,383.6 185.0,384.1C186.6,384.6 189.0,386.3 190.5,387.8C192.0,389.3 193.5,391.3 194.1,393.3C194.7,395.3 194.5,397.4 194.1,399.7C193.7,402.0 192.3,404.7 191.4,407.0C190.5,409.3 189.8,411.6 188.7,413.4C187.6,415.1 187.0,415.9 185.0,417.5C183.0,419.1 179.9,421.9 176.9,423.0C173.9,424.1 169.9,424.0 167.2,424.0C164.5,424.0 163.3,423.7 160.8,423.0C158.3,422.3 154.9,421.1 152.2,419.7C149.5,418.3 146.3,416.2 144.7,414.4C143.1,412.6 142.2,411.0 142.5,409.0Z" fill="none" stroke="#0000ff" stroke-width="1.2" clip-path="url(#cp10)"/>
<path d="M159.7,406.9C159.5,405.6 159.7,404.0 160.8,402.6C161.9,401.2 164.1,399.3 166.1,398.3C168.1,397.3 170.5,397.0 172.6,396.7C174.7,396.4 176.9,396.1 178.5,396.7C180.1,397.3 181.5,398.7 182.2,400.4C182.9,402.1 183.2,405.1 182.8,406.9C182.5,408.7 181.4,410.0 180.1,411.1C178.8,412.2 176.8,413.1 174.7,413.3C172.5,413.5 169.3,412.7 167.2,412.2C165.1,411.7 163.2,411.0 161.9,410.1C160.7,409.2 159.9,408.1 159.7,406.9Z" fill="none" stroke="#0000ff" stroke-width="1.2" clip-path="url(#cp10)"/>
<path d="M163.8,372.4C165.6,371.2 167.5,371.1 169.6,370.5C171.7,369.9 174.9,369.5 176.5,368.5C178.1,367.5 178.3,365.6 179.4,364.6C180.5,363.6 181.7,362.9 183.3,362.7C184.9,362.5 187.0,363.0 189.1,363.2C191.2,363.4 194.5,363.3 196.0,363.7C197.5,364.1 197.7,364.8 197.9,365.6C198.1,366.4 198.0,367.9 197.0,368.5C196.0,369.1 194.2,369.2 192.1,369.5C190.0,369.8 186.2,369.5 184.3,370.0C182.4,370.5 181.6,371.3 180.9,372.4C180.2,373.4 180.0,374.8 180.4,376.3C180.8,377.8 182.0,379.8 183.3,381.2C184.6,382.6 186.1,383.8 188.2,384.6C190.3,385.4 193.4,385.6 196.0,386.1C198.6,386.6 201.5,386.7 203.8,387.6C206.1,388.5 208.1,390.3 209.7,391.4C211.3,392.5 212.4,393.0 213.3,394.2C214.2,395.4 214.4,397.2 215.2,398.8C216.0,400.4 216.4,402.4 217.9,403.8C219.4,405.2 222.0,405.7 224.3,407.0C226.6,408.3 229.8,409.8 231.6,411.5C233.3,413.2 234.5,415.0 234.8,417.0C235.1,419.0 234.4,421.4 233.4,423.4C232.4,425.4 230.7,427.2 228.9,428.9C227.1,430.6 224.8,432.1 222.5,433.5C220.2,434.9 217.8,435.7 215.2,437.1C212.6,438.5 209.7,440.2 206.9,441.7C204.2,443.2 201.4,444.9 198.7,446.3C196.0,447.7 192.8,449.1 190.5,449.9C188.2,450.7 187.1,451.1 185.0,451.3C182.9,451.5 180.4,451.1 178.0,450.9C175.6,450.6 172.9,450.4 170.4,449.8C167.9,449.2 165.4,448.7 162.9,447.6C160.4,446.5 157.2,444.7 155.4,443.3C153.6,441.9 152.9,441.0 152.2,439.0C151.5,437.0 151.3,434.5 151.1,431.5C150.9,428.5 151.1,424.4 151.1,420.8C151.1,417.2 150.7,413.5 151.1,410.1C151.5,406.7 152.6,403.4 153.3,400.4C154.0,397.3 155.0,394.8 155.4,391.8C155.8,388.8 155.5,384.5 156.0,382.2C156.5,379.9 157.3,379.5 158.6,377.9C159.9,376.3 162.0,373.6 163.8,372.4Z" fill="none" stroke="#ff0000" stroke-width="1.2" clip-path="url(#cp10)"/>
<path d="M170.4,388.6C172.4,387.8 175.1,388.0 176.9,388.1C178.7,388.2 179.7,388.5 181.0,389.0C182.3,389.5 183.3,390.3 185.0,391.0C186.7,391.7 189.1,391.9 191.4,393.3C193.7,394.8 196.6,397.4 198.7,399.7C200.8,402.0 202.5,404.7 204.2,407.0C205.9,409.3 207.6,411.4 208.8,413.4C210.0,415.4 211.2,417.1 211.5,418.9C211.8,420.7 211.4,422.6 210.6,424.3C209.8,426.0 208.4,427.1 206.9,428.9C205.4,430.7 203.5,433.5 201.4,435.3C199.3,437.1 196.8,438.7 194.1,439.9C191.4,441.1 187.9,442.4 185.0,442.6C182.1,442.8 179.7,441.6 176.9,441.2C174.1,440.8 170.8,440.8 168.3,440.1C165.8,439.4 163.5,438.7 161.9,436.9C160.3,435.1 159.3,432.4 158.6,429.4C157.9,426.4 157.8,422.3 157.6,418.7C157.4,415.1 157.2,411.1 157.6,407.9C157.9,404.7 158.4,401.8 159.7,399.3C160.9,396.8 163.3,394.7 165.1,392.9C166.9,391.1 168.4,389.4 170.4,388.6Z" fill="none" stroke="#ff0000" stroke-width="1.2" clip-path="url(#cp10)"/>
<path d="M172.6,399.3C174.8,398.6 178.0,398.1 180.1,398.3C182.2,398.5 183.3,399.5 185.0,400.6C186.7,401.8 188.7,403.5 190.5,405.2C192.3,406.9 194.6,408.9 196.0,410.6C197.4,412.3 198.6,413.5 199.2,415.2C199.8,416.9 199.8,418.7 199.6,420.7C199.4,422.7 198.7,425.1 197.8,427.1C196.9,429.1 195.6,431.2 194.1,432.6C192.6,434.0 190.4,435.1 188.7,435.5C187.0,435.9 186.3,435.5 184.0,435.0C181.7,434.5 177.3,433.5 174.7,432.6C172.1,431.7 169.9,430.8 168.3,429.4C166.7,428.0 165.9,426.1 165.1,424.0C164.3,421.9 163.7,419.0 163.5,416.5C163.3,414.0 163.4,411.3 164.0,409.0C164.6,406.7 165.8,404.2 167.2,402.6C168.6,401.0 170.4,400.0 172.6,399.3Z" fill="none" stroke="#ff0000" stroke-width="1.2" clip-path="url(#cp10)"/>
<path d="M174.7,413.8C174.9,412.7 176.9,411.2 178.0,411.1C179.1,411.0 180.3,412.0 181.2,413.3C182.1,414.6 183.0,417.0 183.3,418.7C183.7,420.4 183.8,422.9 183.3,423.3C182.8,423.7 181.2,421.8 180.1,420.8C179.0,419.9 177.8,418.8 176.9,417.6C176.0,416.4 174.5,414.9 174.7,413.8Z" fill="none" stroke="#ff0000" stroke-width="1.2" clip-path="url(#cp10)"/>
<path d="M57.6,529.6C56.9,531.0 58.0,533.0 59.0,534.5C60.0,536.0 62.0,538.1 63.4,538.4C64.8,538.7 66.4,537.5 67.3,536.5C68.2,535.5 68.8,533.8 68.8,532.6C68.8,531.5 68.3,530.7 67.3,529.6C66.3,528.5 64.6,526.0 63.0,526.0C61.4,526.0 58.3,528.2 57.6,529.6Z" fill="none" stroke="#0000ff" stroke-width="1.2" stroke-dasharray="3,2" clip-path="url(#cp10)"/>
<path d="M287.3,304.1C287.5,304.7 288.1,306.4 288.5,307.5C288.9,308.6 289.4,310.1 289.6,310.6" fill="none" stroke="#0000ff" stroke-width="1.2" stroke-dasharray="3,2" clip-path="url(#cp10)"/>
<path d="M150.7,704.7C151.0,701.4 151.3,699.7 152.5,697.6C153.7,695.5 155.2,694.0 157.9,692.2C160.6,690.4 164.7,688.4 168.6,686.8C172.5,685.2 177.2,684.0 181.1,682.4C185.0,680.8 188.6,678.8 191.9,677.0C195.2,675.2 197.5,673.1 200.8,671.6C204.1,670.1 207.9,668.7 211.5,668.0C215.1,667.3 218.7,667.4 222.3,667.2C225.9,667.0 230.0,666.5 233.0,666.8C236.0,667.1 238.6,667.6 240.2,668.9C241.8,670.1 242.5,672.2 242.8,674.3C243.1,676.4 242.8,679.0 241.9,681.5C241.0,684.0 239.0,687.4 237.5,689.5C236.0,691.6 233.8,692.4 233.0,694.0C232.2,695.6 232.8,697.8 232.6,699.3C232.4,700.8 232.9,702.2 232.1,702.9C231.3,703.6 228.9,703.8 227.6,703.3C226.3,702.8 225.9,701.2 224.1,700.2C222.3,699.2 219.6,698.2 216.9,697.6C214.2,697.0 211.3,696.6 208.0,696.7C204.7,696.9 199.9,697.5 197.2,698.5C194.5,699.5 193.7,700.7 191.9,702.9C190.1,705.1 188.3,709.2 186.5,711.9C184.7,714.6 182.9,716.6 181.1,719.0C179.3,721.4 177.3,724.1 175.8,726.2C174.3,728.3 174.0,730.3 172.2,731.5C170.4,732.7 167.4,733.1 165.0,733.3C162.6,733.4 159.8,733.4 157.9,732.4C156.0,731.4 154.6,729.6 153.4,727.1C152.2,724.6 151.1,720.9 150.7,717.2C150.2,713.5 150.4,708.0 150.7,704.7Z" fill="none" stroke="#0000ff" stroke-width="1.2" clip-path="url(#cp20)"/>
<path d="M166.8,702.9C166.8,702.0 169.5,699.5 171.3,698.5C173.1,697.5 176.2,696.7 177.6,696.7C179.0,696.7 179.7,697.8 179.7,698.5C179.7,699.2 179.0,700.2 177.6,701.1C176.2,702.0 173.1,703.5 171.3,703.8C169.5,704.1 166.8,703.8 166.8,702.9Z" fill="none" stroke="#0000ff" stroke-width="1.2" clip-path="url(#cp20)"/>
<path d="M145.4,717.2C145.5,714.5 146.5,713.4 148.0,711.9C149.5,710.4 151.8,709.3 154.3,708.3C156.9,707.2 161.4,707.1 163.3,705.6C165.2,704.1 165.3,701.5 165.9,699.3C166.5,697.1 165.8,694.4 166.8,692.2C167.9,690.0 169.8,687.5 172.2,685.9C174.6,684.3 178.4,682.8 181.1,682.4C183.8,682.0 186.2,682.0 188.3,683.3C190.4,684.6 192.8,687.1 193.7,690.4C194.6,693.7 193.4,699.3 193.7,702.9C194.0,706.5 194.4,708.9 195.4,711.9C196.4,714.9 199.6,717.8 199.9,720.8C200.2,723.8 198.5,727.4 197.2,729.8C195.9,732.2 194.0,733.0 191.9,735.1C189.8,737.2 187.4,739.9 184.7,742.3C182.0,744.7 178.5,748.1 175.8,749.4C173.1,750.7 171.3,751.2 168.6,750.3C165.9,749.4 162.4,746.3 159.7,744.1C157.0,741.9 154.6,739.6 152.5,736.9C150.4,734.2 148.4,731.3 147.2,728.0C146.0,724.7 145.3,719.9 145.4,717.2Z" fill="none" stroke="#ff0000" stroke-width="1.2" clip-path="url(#cp20)"/>
<path d="M158.8,719.0C159.2,717.0 160.2,716.9 161.5,715.4C162.8,713.9 165.2,711.9 166.8,710.1C168.4,708.3 169.8,706.9 171.3,704.7C172.8,702.5 174.2,698.2 175.8,696.7C177.4,695.2 179.6,695.4 181.1,695.8C182.6,696.2 183.9,697.2 184.7,699.3C185.4,701.4 185.0,705.3 185.6,708.3C186.2,711.3 187.9,714.5 188.3,717.2C188.8,719.9 189.2,722.0 188.3,724.4C187.4,726.8 185.0,729.4 182.9,731.5C180.8,733.6 178.2,735.7 175.8,736.9C173.4,738.1 170.8,739.0 168.6,738.7C166.4,738.4 164.0,737.0 162.4,735.1C160.8,733.2 159.4,729.8 158.8,727.1C158.2,724.4 158.4,721.0 158.8,719.0Z" fill="none" stroke="#ff0000" stroke-width="1.2" clip-path="url(#cp20)"/>
<path d="M201.5,744.6C202.2,743.3 204.1,741.3 206.0,741.1C207.9,740.9 210.5,742.1 212.8,743.4C215.1,744.7 217.2,747.8 219.7,749.1C222.2,750.4 226.1,750.5 227.6,751.4C229.1,752.3 230.1,754.4 228.8,754.8C227.5,755.2 222.4,754.1 219.7,753.7C217.0,753.3 215.1,752.9 212.8,752.5C210.5,752.1 207.8,752.0 206.0,751.4C204.2,750.8 202.7,750.2 201.9,749.1C201.2,748.0 200.8,745.9 201.5,744.6Z" fill="none" stroke="#ff0000" stroke-width="1.2" clip-path="url(#cp20)"/>
<path d="M59.2,602.0C57.3,603.3 57.5,604.4 56.6,605.9C55.7,607.4 54.5,609.4 54.0,611.1C53.5,612.8 53.0,614.3 53.4,616.3C53.8,618.2 54.8,621.3 56.6,622.8C58.4,624.3 61.8,625.4 64.4,625.4C67.0,625.4 69.6,624.1 72.2,622.8C74.8,621.5 78.3,619.5 80.0,617.6C81.7,615.7 82.6,613.1 82.6,611.1C82.6,609.1 81.1,607.4 80.0,605.9C78.9,604.4 78.1,603.3 76.1,602.0C74.1,600.7 70.8,598.0 68.0,598.0C65.2,598.0 61.1,600.7 59.2,602.0Z" fill="none" stroke="#ff0000" stroke-width="1.2" stroke-dasharray="3,2" clip-path="url(#cp20)"/>
<path d="M91.1,646.9C91.3,646.3 92.2,645.2 93.0,645.2C93.8,645.2 94.7,646.4 95.6,646.9C96.5,647.4 98.3,647.8 98.2,648.2C98.1,648.6 96.1,649.4 95.0,649.5C93.9,649.6 92.4,649.2 91.7,648.8C91.0,648.4 90.9,647.5 91.1,646.9Z" fill="none" stroke="#ff0000" stroke-width="1.2" stroke-dasharray="3,2" clip-path="url(#cp20)"/>
<path d="M234.7,607.2C236.4,607.3 239.2,608.4 240.3,609.5C241.4,610.6 241.6,612.5 241.5,614.0C241.4,615.5 240.6,617.8 239.5,618.8C238.4,619.8 236.4,620.2 234.7,620.2C233.0,620.2 230.6,619.6 229.5,618.5C228.4,617.4 228.1,615.3 228.2,613.7C228.3,612.1 228.9,610.1 230.0,609.0C231.1,607.9 233.0,607.1 234.7,607.2Z" fill="none" stroke="#0000ff" stroke-width="1.2" stroke-dasharray="3,2" clip-path="url(#cp20)"/>
<path d="M41.9,729.5C42.2,728.1 42.8,726.6 43.9,725.6C45.0,724.6 46.8,723.2 48.4,723.3C50.0,723.4 52.1,725.0 53.6,726.3C55.1,727.5 56.9,729.4 57.5,730.8C58.1,732.2 57.9,733.5 57.5,734.7C57.1,735.9 56.2,737.1 54.9,738.0C53.6,738.9 51.3,739.9 49.7,739.9C48.1,739.9 46.5,739.0 45.2,738.0C44.0,737.0 42.8,735.5 42.2,734.1C41.7,732.7 41.6,730.9 41.9,729.5Z" fill="none" stroke="#ff0000" stroke-width="1.2" stroke-dasharray="3,2" clip-path="url(#cp20)"/>
<path d="M262.4,728.0C262.7,727.2 265.5,726.1 266.9,726.1C268.2,726.1 270.4,727.0 270.5,728.0C270.6,729.0 268.5,731.5 267.6,731.9C266.7,732.3 265.9,731.2 265.0,730.6C264.1,730.0 262.1,728.8 262.4,728.0Z" fill="none" stroke="#ff0000" stroke-width="1.2" stroke-dasharray="3,2" clip-path="url(#cp20)"/>
<path d="M158.2,768.5C159.4,767.2 161.7,765.6 162.8,766.2C163.9,766.8 164.8,769.8 165.0,771.9C165.2,774.0 165.0,777.5 163.9,778.7C162.8,779.9 159.6,780.0 158.2,779.2C156.8,778.4 155.5,775.9 155.5,774.1C155.5,772.3 157.0,769.8 158.2,768.5Z" fill="none" stroke="#ff0000" stroke-width="1.2" clip-path="url(#cp20)"/>
<path d="M244.7,777.6C246.0,776.1 248.8,772.5 251.5,771.9C254.2,771.3 258.1,772.6 260.6,774.1C263.1,775.6 265.9,779.1 266.3,781.0C266.7,782.9 265.0,784.3 262.9,785.5C260.8,786.7 256.4,788.3 253.8,788.3C251.2,788.3 248.7,786.7 247.0,785.5C245.3,784.3 244.0,782.3 243.6,781.0C243.2,779.7 243.4,779.1 244.7,777.6Z" fill="none" stroke="#ff0000" stroke-width="1.2" clip-path="url(#cp20)"/>
<path d="M185.5,787.8C186.8,786.7 187.6,785.8 188.9,786.7C190.2,787.7 192.9,791.0 193.5,793.5C194.1,796.0 193.3,798.7 192.4,801.5C191.5,804.3 190.0,809.1 188.3,810.1C186.6,811.1 183.7,808.8 182.1,807.2C180.5,805.6 178.9,802.6 178.7,800.3C178.5,798.0 179.9,795.6 181.0,793.5C182.1,791.4 184.2,788.9 185.5,787.8Z" fill="none" stroke="#0000ff" stroke-width="1.2" clip-path="url(#cp20)"/>
<path d="M197.4,816.3C198.0,816.3 199.2,817.5 199.2,818.1C199.2,818.7 198.0,819.9 197.4,819.9C196.8,819.9 195.6,818.7 195.6,818.1C195.6,817.5 196.8,816.3 197.4,816.3Z" fill="none" stroke="#0000ff" stroke-width="1.2" clip-path="url(#cp20)"/>
<path d="M247.0,849.3C247.9,847.7 250.0,846.8 251.5,846.5C253.0,846.2 255.0,846.6 256.1,847.4C257.2,848.2 257.6,849.7 257.9,851.1C258.2,852.5 260.0,855.2 258.0,856.0C256.0,856.8 247.8,857.1 246.0,856.0C244.2,854.9 246.1,850.9 247.0,849.3Z" fill="none" stroke="#ff0000" stroke-width="1.2" clip-path="url(#cp20)"/>
<rect x="48.5" y="228.3" width="124.2" height="4.4" fill="#000"/>
<text x="65.5" y="244.7" font-size="13.8" textLength="90.5" lengthAdjust="spacingAndGlyphs" fill="#000" stroke="#000" stroke-width="0.3">0.5" (200 AU)</text>
<rect x="368.5" y="228.3" width="124.2" height="4.4" fill="#000"/>
<text x="385.5" y="244.7" font-size="13.8" textLength="90.5" lengthAdjust="spacingAndGlyphs" fill="#000" stroke="#000" stroke-width="0.3">0.5" (200 AU)</text>
<rect x="48.5" y="525.5" width="124.2" height="4.4" fill="#000"/>
<text x="65.5" y="541.9" font-size="13.8" textLength="90.5" lengthAdjust="spacingAndGlyphs" fill="#000" stroke="#000" stroke-width="0.3">0.5" (200 AU)</text>
<rect x="368.5" y="525.5" width="124.2" height="4.4" fill="#000"/>
<text x="385.5" y="541.9" font-size="13.8" textLength="90.5" lengthAdjust="spacingAndGlyphs" fill="#000" stroke="#000" stroke-width="0.3">0.5" (200 AU)</text>
<rect x="48.5" y="825.2" width="124.2" height="4.4" fill="#000"/>
<text x="65.5" y="841.6" font-size="13.8" textLength="90.5" lengthAdjust="spacingAndGlyphs" fill="#000" stroke="#000" stroke-width="0.3">0.5" (200 AU)</text>
<rect x="368.5" y="825.2" width="124.2" height="4.4" fill="#000"/>
<text x="385.5" y="841.6" font-size="13.8" textLength="90.5" lengthAdjust="spacingAndGlyphs" fill="#000" stroke="#000" stroke-width="0.3">0.5" (200 AU)</text>
<rect x="41.5" y="5.5" width="248.5" height="248.4" fill="none" stroke="#1a1a1a" stroke-width="1.05"/>
<path d="M38.5,14.5h3.0M290.0,14.5h3.0M38.5,24.4h3.0M290.0,24.4h3.0M38.5,34.4h3.0M290.0,34.4h3.0M38.5,44.3h3.0M290.0,44.3h3.0M36.2,54.2h5.3M290.0,54.2h5.3M38.5,64.1h3.0M290.0,64.1h3.0M38.5,74.0h3.0M290.0,74.0h3.0M38.5,84.0h3.0M290.0,84.0h3.0M38.5,93.9h3.0M290.0,93.9h3.0M36.2,103.8h5.3M290.0,103.8h5.3M38.5,113.7h3.0M290.0,113.7h3.0M38.5,123.6h3.0M290.0,123.6h3.0M38.5,133.6h3.0M290.0,133.6h3.0M38.5,143.5h3.0M290.0,143.5h3.0M36.2,153.4h5.3M290.0,153.4h5.3M38.5,163.3h3.0M290.0,163.3h3.0M38.5,173.2h3.0M290.0,173.2h3.0M38.5,183.2h3.0M290.0,183.2h3.0M38.5,193.1h3.0M290.0,193.1h3.0M36.2,203.0h5.3M290.0,203.0h5.3M38.5,212.9h3.0M290.0,212.9h3.0M38.5,222.8h3.0M290.0,222.8h3.0M38.5,232.8h3.0M290.0,232.8h3.0M38.5,242.7h3.0M290.0,242.7h3.0M36.2,252.6h5.3M290.0,252.6h5.3M48.5,2.8v2.7M48.5,253.9v2.7M122.3,0.5v5.0M122.3,253.9v5.0M196.3,2.8v2.7M196.3,253.9v2.7M270.4,2.8v2.7M270.4,253.9v2.7" stroke="#222" stroke-width="0.9" fill="none"/>
<text x="35.8" y="56.8" font-size="7.2" text-anchor="end" fill="#000" stroke="#000" stroke-width="0.22">-5:09:59.8</text>
<text x="35.8" y="106.4" font-size="7.2" text-anchor="end" fill="#000" stroke="#000" stroke-width="0.22">10:00.0</text>
<text x="35.8" y="156.0" font-size="7.2" text-anchor="end" fill="#000" stroke="#000" stroke-width="0.22">00.2</text>
<text x="35.8" y="205.6" font-size="7.2" text-anchor="end" fill="#000" stroke="#000" stroke-width="0.22">00.4</text>
<text x="35.8" y="255.2" font-size="7.2" text-anchor="end" fill="#000" stroke="#000" stroke-width="0.22">00.6</text>
<text x="122.3" y="264.8" font-size="7.2" text-anchor="middle" fill="#000" stroke="#000" stroke-width="0.22">5:35:27.1</text>
<text x="165.8" y="276.6" font-size="11.5" text-anchor="middle" fill="#000" stroke="#000" stroke-width="0.32">RA (J2000)</text>
<text transform="translate(9.1,130.1) rotate(-90)" font-size="12" text-anchor="middle" fill="#000" stroke="#000" stroke-width="0.3">Dec (J2000)</text>
<g transform="translate(165.8,20.9) scale(1.115,1)"><text x="0" y="0" font-size="11.5" font-weight="bold" text-anchor="middle" fill="#000" stroke="#000" stroke-width="0.28">HOPS-108 CH<tspan font-size="8.6" font-weight="normal" dy="1.9" fill="#111" stroke="#111" stroke-width="0.15">3</tspan><tspan dy="-1.9">OH 5</tspan><tspan font-size="8.6" font-weight="normal" dy="1.9" fill="#111" stroke="#111" stroke-width="0.15">4</tspan><tspan dy="-1.9">-6</tspan><tspan font-size="8.6" font-weight="normal" dy="1.9" fill="#111" stroke="#111" stroke-width="0.15">3</tspan></text></g>
<rect x="361.5" y="5.5" width="248.5" height="248.4" fill="none" stroke="#1a1a1a" stroke-width="1.05"/>
<path d="M358.5,7.5h3.0M610.0,7.5h3.0M356.2,17.4h5.3M610.0,17.4h5.3M358.5,27.4h3.0M610.0,27.4h3.0M358.5,37.3h3.0M610.0,37.3h3.0M358.5,47.2h3.0M610.0,47.2h3.0M358.5,57.1h3.0M610.0,57.1h3.0M356.2,67.1h5.3M610.0,67.1h5.3M358.5,77.0h3.0M610.0,77.0h3.0M358.5,86.9h3.0M610.0,86.9h3.0M358.5,96.9h3.0M610.0,96.9h3.0M358.5,106.8h3.0M610.0,106.8h3.0M356.2,116.7h5.3M610.0,116.7h5.3M358.5,126.7h3.0M610.0,126.7h3.0M358.5,136.6h3.0M610.0,136.6h3.0M358.5,146.5h3.0M610.0,146.5h3.0M358.5,156.4h3.0M610.0,156.4h3.0M356.2,166.4h5.3M610.0,166.4h5.3M358.5,176.3h3.0M610.0,176.3h3.0M358.5,186.2h3.0M610.0,186.2h3.0M358.5,196.2h3.0M610.0,196.2h3.0M358.5,206.1h3.0M610.0,206.1h3.0M356.2,216.0h5.3M610.0,216.0h5.3M358.5,226.0h3.0M610.0,226.0h3.0M358.5,235.9h3.0M610.0,235.9h3.0M358.5,245.8h3.0M610.0,245.8h3.0M398.5,2.8v2.7M398.5,253.9v2.7M472.0,2.8v2.7M472.0,253.9v2.7M546.5,2.8v2.7M546.5,253.9v2.7" stroke="#222" stroke-width="0.9" fill="none"/>
<text x="356.0" y="20.0" font-size="7.2" text-anchor="end" fill="#000" stroke="#000" stroke-width="0.22">-5:09:34.0</text>
<text x="356.0" y="69.7" font-size="7.2" text-anchor="end" fill="#000" stroke="#000" stroke-width="0.22">34.2</text>
<text x="356.0" y="119.3" font-size="7.2" text-anchor="end" fill="#000" stroke="#000" stroke-width="0.22">34.4</text>
<text x="356.0" y="169.0" font-size="7.2" text-anchor="end" fill="#000" stroke="#000" stroke-width="0.22">34.6</text>
<text x="356.0" y="218.6" font-size="7.2" text-anchor="end" fill="#000" stroke="#000" stroke-width="0.22">34.8</text>
<text x="485.8" y="269.3" font-size="11.5" text-anchor="middle" fill="#000" stroke="#000" stroke-width="0.32">RA (J2000)</text>
<text transform="translate(328.6,130.1) rotate(-90)" font-size="12" text-anchor="middle" fill="#000" stroke="#000" stroke-width="0.3">Dec (J2000)</text>
<g transform="translate(485.8,20.9) scale(1.115,1)"><text x="0" y="0" font-size="11.5" font-weight="bold" text-anchor="middle" fill="#000" stroke="#000" stroke-width="0.28">HOPS-370 CH<tspan font-size="8.6" font-weight="normal" dy="1.9" fill="#111" stroke="#111" stroke-width="0.15">3</tspan><tspan dy="-1.9">OH 5</tspan><tspan font-size="8.6" font-weight="normal" dy="1.9" fill="#111" stroke="#111" stroke-width="0.15">4</tspan><tspan dy="-1.9">-6</tspan><tspan font-size="8.6" font-weight="normal" dy="1.9" fill="#111" stroke="#111" stroke-width="0.15">3</tspan></text></g>
<rect x="41.5" y="302.9" width="248.5" height="248.2" fill="none" stroke="#1a1a1a" stroke-width="1.05"/>
<path d="M38.5,311.9h3.0M290.0,311.9h3.0M38.5,321.8h3.0M290.0,321.8h3.0M38.5,331.8h3.0M290.0,331.8h3.0M38.5,341.7h3.0M290.0,341.7h3.0M36.2,351.6h5.3M290.0,351.6h5.3M38.5,361.5h3.0M290.0,361.5h3.0M38.5,371.4h3.0M290.0,371.4h3.0M38.5,381.4h3.0M290.0,381.4h3.0M38.5,391.3h3.0M290.0,391.3h3.0M36.2,401.2h5.3M290.0,401.2h5.3M38.5,411.1h3.0M290.0,411.1h3.0M38.5,421.0h3.0M290.0,421.0h3.0M38.5,431.0h3.0M290.0,431.0h3.0M38.5,440.9h3.0M290.0,440.9h3.0M36.2,450.8h5.3M290.0,450.8h5.3M38.5,460.7h3.0M290.0,460.7h3.0M38.5,470.6h3.0M290.0,470.6h3.0M38.5,480.6h3.0M290.0,480.6h3.0M38.5,490.5h3.0M290.0,490.5h3.0M36.2,500.4h5.3M290.0,500.4h5.3M38.5,510.3h3.0M290.0,510.3h3.0M38.5,520.2h3.0M290.0,520.2h3.0M38.5,530.2h3.0M290.0,530.2h3.0M38.5,540.1h3.0M290.0,540.1h3.0M36.2,550.0h5.3M290.0,550.0h5.3M48.5,300.2v2.7M48.5,551.1v2.7M122.3,297.9v5.0M122.3,551.1v5.0M196.3,300.2v2.7M196.3,551.1v2.7M270.4,300.2v2.7M270.4,551.1v2.7" stroke="#222" stroke-width="0.9" fill="none"/>
<text x="35.8" y="354.2" font-size="7.2" text-anchor="end" fill="#000" stroke="#000" stroke-width="0.22">-5:09:59.8</text>
<text x="35.8" y="403.8" font-size="7.2" text-anchor="end" fill="#000" stroke="#000" stroke-width="0.22">10:00.0</text>
<text x="35.8" y="453.4" font-size="7.2" text-anchor="end" fill="#000" stroke="#000" stroke-width="0.22">00.2</text>
<text x="35.8" y="503.0" font-size="7.2" text-anchor="end" fill="#000" stroke="#000" stroke-width="0.22">00.4</text>
<text x="35.8" y="552.6" font-size="7.2" text-anchor="end" fill="#000" stroke="#000" stroke-width="0.22">00.6</text>
<text x="122.3" y="562.0" font-size="7.2" text-anchor="middle" fill="#000" stroke="#000" stroke-width="0.22">5:35:27.1</text>
<text x="165.8" y="573.8" font-size="11.5" text-anchor="middle" fill="#000" stroke="#000" stroke-width="0.32">RA (J2000)</text>
<text transform="translate(9.1,427.4) rotate(-90)" font-size="12" text-anchor="middle" fill="#000" stroke="#000" stroke-width="0.3">Dec (J2000)</text>
<g transform="translate(165.8,318.3) scale(1.115,1)"><text x="0" y="0" font-size="11.5" font-weight="bold" text-anchor="middle" fill="#000" stroke="#000" stroke-width="0.28">HOPS-108 CH<tspan font-size="8.6" font-weight="normal" dy="1.9" fill="#111" stroke="#111" stroke-width="0.15">3</tspan><tspan dy="-1.9">OH 16</tspan><tspan font-size="8.6" font-weight="normal" dy="1.9" fill="#111" stroke="#111" stroke-width="0.15">1</tspan><tspan dy="-1.9">-15</tspan><tspan font-size="8.6" font-weight="normal" dy="1.9" fill="#111" stroke="#111" stroke-width="0.15">2</tspan></text></g>
<rect x="361.5" y="302.9" width="248.5" height="248.2" fill="none" stroke="#1a1a1a" stroke-width="1.05"/>
<path d="M358.5,304.9h3.0M610.0,304.9h3.0M356.2,314.8h5.3M610.0,314.8h5.3M358.5,324.8h3.0M610.0,324.8h3.0M358.5,334.7h3.0M610.0,334.7h3.0M358.5,344.6h3.0M610.0,344.6h3.0M358.5,354.5h3.0M610.0,354.5h3.0M356.2,364.5h5.3M610.0,364.5h5.3M358.5,374.4h3.0M610.0,374.4h3.0M358.5,384.3h3.0M610.0,384.3h3.0M358.5,394.3h3.0M610.0,394.3h3.0M358.5,404.2h3.0M610.0,404.2h3.0M356.2,414.1h5.3M610.0,414.1h5.3M358.5,424.1h3.0M610.0,424.1h3.0M358.5,434.0h3.0M610.0,434.0h3.0M358.5,443.9h3.0M610.0,443.9h3.0M358.5,453.8h3.0M610.0,453.8h3.0M356.2,463.8h5.3M610.0,463.8h5.3M358.5,473.7h3.0M610.0,473.7h3.0M358.5,483.6h3.0M610.0,483.6h3.0M358.5,493.6h3.0M610.0,493.6h3.0M358.5,503.5h3.0M610.0,503.5h3.0M356.2,513.4h5.3M610.0,513.4h5.3M358.5,523.4h3.0M610.0,523.4h3.0M358.5,533.3h3.0M610.0,533.3h3.0M358.5,543.2h3.0M610.0,543.2h3.0M398.5,300.2v2.7M398.5,551.1v2.7M472.0,300.2v2.7M472.0,551.1v2.7M546.5,300.2v2.7M546.5,551.1v2.7" stroke="#222" stroke-width="0.9" fill="none"/>
<text x="356.0" y="317.4" font-size="7.2" text-anchor="end" fill="#000" stroke="#000" stroke-width="0.22">-5:09:34.0</text>
<text x="356.0" y="367.1" font-size="7.2" text-anchor="end" fill="#000" stroke="#000" stroke-width="0.22">34.2</text>
<text x="356.0" y="416.7" font-size="7.2" text-anchor="end" fill="#000" stroke="#000" stroke-width="0.22">34.4</text>
<text x="356.0" y="466.4" font-size="7.2" text-anchor="end" fill="#000" stroke="#000" stroke-width="0.22">34.6</text>
<text x="356.0" y="516.0" font-size="7.2" text-anchor="end" fill="#000" stroke="#000" stroke-width="0.22">34.8</text>
<text x="485.8" y="566.5" font-size="11.5" text-anchor="middle" fill="#000" stroke="#000" stroke-width="0.32">RA (J2000)</text>
<text transform="translate(328.6,427.4) rotate(-90)" font-size="12" text-anchor="middle" fill="#000" stroke="#000" stroke-width="0.3">Dec (J2000)</text>
<g transform="translate(485.8,318.3) scale(1.115,1)"><text x="0" y="0" font-size="11.5" font-weight="bold" text-anchor="middle" fill="#000" stroke="#000" stroke-width="0.28">HOPS-370 CH<tspan font-size="8.6" font-weight="normal" dy="1.9" fill="#111" stroke="#111" stroke-width="0.15">3</tspan><tspan dy="-1.9">OH 16</tspan><tspan font-size="8.6" font-weight="normal" dy="1.9" fill="#111" stroke="#111" stroke-width="0.15">1</tspan><tspan dy="-1.9">-15</tspan><tspan font-size="8.6" font-weight="normal" dy="1.9" fill="#111" stroke="#111" stroke-width="0.15">2</tspan></text></g>
<rect x="41.5" y="602.5" width="248.5" height="248.3" fill="none" stroke="#1a1a1a" stroke-width="1.05"/>
<path d="M38.5,611.5h3.0M290.0,611.5h3.0M38.5,621.4h3.0M290.0,621.4h3.0M38.5,631.4h3.0M290.0,631.4h3.0M38.5,641.3h3.0M290.0,641.3h3.0M36.2,651.2h5.3M290.0,651.2h5.3M38.5,661.1h3.0M290.0,661.1h3.0M38.5,671.0h3.0M290.0,671.0h3.0M38.5,681.0h3.0M290.0,681.0h3.0M38.5,690.9h3.0M290.0,690.9h3.0M36.2,700.8h5.3M290.0,700.8h5.3M38.5,710.7h3.0M290.0,710.7h3.0M38.5,720.6h3.0M290.0,720.6h3.0M38.5,730.6h3.0M290.0,730.6h3.0M38.5,740.5h3.0M290.0,740.5h3.0M36.2,750.4h5.3M290.0,750.4h5.3M38.5,760.3h3.0M290.0,760.3h3.0M38.5,770.2h3.0M290.0,770.2h3.0M38.5,780.2h3.0M290.0,780.2h3.0M38.5,790.1h3.0M290.0,790.1h3.0M36.2,800.0h5.3M290.0,800.0h5.3M38.5,809.9h3.0M290.0,809.9h3.0M38.5,819.8h3.0M290.0,819.8h3.0M38.5,829.8h3.0M290.0,829.8h3.0M38.5,839.7h3.0M290.0,839.7h3.0M36.2,849.6h5.3M290.0,849.6h5.3M48.5,599.8v2.7M48.5,850.8v2.7M122.3,597.5v5.0M122.3,850.8v5.0M196.3,599.8v2.7M196.3,850.8v2.7M270.4,599.8v2.7M270.4,850.8v2.7" stroke="#222" stroke-width="0.9" fill="none"/>
<text x="35.8" y="653.8" font-size="7.2" text-anchor="end" fill="#000" stroke="#000" stroke-width="0.22">-5:09:59.8</text>
<text x="35.8" y="703.4" font-size="7.2" text-anchor="end" fill="#000" stroke="#000" stroke-width="0.22">10:00.0</text>
<text x="35.8" y="753.0" font-size="7.2" text-anchor="end" fill="#000" stroke="#000" stroke-width="0.22">00.2</text>
<text x="35.8" y="802.6" font-size="7.2" text-anchor="end" fill="#000" stroke="#000" stroke-width="0.22">00.4</text>
<text x="35.8" y="852.2" font-size="7.2" text-anchor="end" fill="#000" stroke="#000" stroke-width="0.22">00.6</text>
<text x="122.3" y="861.7" font-size="7.2" text-anchor="middle" fill="#000" stroke="#000" stroke-width="0.22">5:35:27.1</text>
<text x="165.8" y="873.5" font-size="11.5" text-anchor="middle" fill="#000" stroke="#000" stroke-width="0.32">RA (J2000)</text>
<text transform="translate(9.1,727.0) rotate(-90)" font-size="12" text-anchor="middle" fill="#000" stroke="#000" stroke-width="0.3">Dec (J2000)</text>
<g transform="translate(165.8,617.9) scale(1.115,1)"><text x="0" y="0" font-size="11.5" font-weight="bold" text-anchor="middle" fill="#000" stroke="#000" stroke-width="0.28">HOPS-108 CH<tspan font-size="8.6" font-weight="normal" dy="1.9" fill="#111" stroke="#111" stroke-width="0.15">3</tspan><tspan dy="-1.9">OH 18</tspan><tspan font-size="8.6" font-weight="normal" dy="1.9" fill="#111" stroke="#111" stroke-width="0.15">3</tspan><tspan dy="-1.9">-17</tspan><tspan font-size="8.6" font-weight="normal" dy="1.9" fill="#111" stroke="#111" stroke-width="0.15">4</tspan></text></g>
<rect x="361.5" y="602.5" width="248.5" height="248.3" fill="none" stroke="#1a1a1a" stroke-width="1.05"/>
<path d="M358.5,604.5h3.0M610.0,604.5h3.0M356.2,614.4h5.3M610.0,614.4h5.3M358.5,624.4h3.0M610.0,624.4h3.0M358.5,634.3h3.0M610.0,634.3h3.0M358.5,644.2h3.0M610.0,644.2h3.0M358.5,654.1h3.0M610.0,654.1h3.0M356.2,664.1h5.3M610.0,664.1h5.3M358.5,674.0h3.0M610.0,674.0h3.0M358.5,683.9h3.0M610.0,683.9h3.0M358.5,693.9h3.0M610.0,693.9h3.0M358.5,703.8h3.0M610.0,703.8h3.0M356.2,713.7h5.3M610.0,713.7h5.3M358.5,723.7h3.0M610.0,723.7h3.0M358.5,733.6h3.0M610.0,733.6h3.0M358.5,743.5h3.0M610.0,743.5h3.0M358.5,753.5h3.0M610.0,753.5h3.0M356.2,763.4h5.3M610.0,763.4h5.3M358.5,773.3h3.0M610.0,773.3h3.0M358.5,783.2h3.0M610.0,783.2h3.0M358.5,793.2h3.0M610.0,793.2h3.0M358.5,803.1h3.0M610.0,803.1h3.0M356.2,813.0h5.3M610.0,813.0h5.3M358.5,823.0h3.0M610.0,823.0h3.0M358.5,832.9h3.0M610.0,832.9h3.0M358.5,842.8h3.0M610.0,842.8h3.0M398.5,599.8v2.7M398.5,850.8v2.7M472.0,599.8v2.7M472.0,850.8v2.7M546.5,599.8v2.7M546.5,850.8v2.7" stroke="#222" stroke-width="0.9" fill="none"/>
<text x="356.0" y="617.0" font-size="7.2" text-anchor="end" fill="#000" stroke="#000" stroke-width="0.22">-5:09:34.0</text>
<text x="356.0" y="666.7" font-size="7.2" text-anchor="end" fill="#000" stroke="#000" stroke-width="0.22">34.2</text>
<text x="356.0" y="716.3" font-size="7.2" text-anchor="end" fill="#000" stroke="#000" stroke-width="0.22">34.4</text>
<text x="356.0" y="766.0" font-size="7.2" text-anchor="end" fill="#000" stroke="#000" stroke-width="0.22">34.6</text>
<text x="356.0" y="815.6" font-size="7.2" text-anchor="end" fill="#000" stroke="#000" stroke-width="0.22">34.8</text>
<text x="485.8" y="866.2" font-size="11.5" text-anchor="middle" fill="#000" stroke="#000" stroke-width="0.32">RA (J2000)</text>
<text transform="translate(328.6,727.0) rotate(-90)" font-size="12" text-anchor="middle" fill="#000" stroke="#000" stroke-width="0.3">Dec (J2000)</text>
<g transform="translate(485.8,617.9) scale(1.115,1)"><text x="0" y="0" font-size="11.5" font-weight="bold" text-anchor="middle" fill="#000" stroke="#000" stroke-width="0.28">HOPS-370 CH<tspan font-size="8.6" font-weight="normal" dy="1.9" fill="#111" stroke="#111" stroke-width="0.15">3</tspan><tspan dy="-1.9">OH 18</tspan><tspan font-size="8.6" font-weight="normal" dy="1.9" fill="#111" stroke="#111" stroke-width="0.15">3</tspan><tspan dy="-1.9">-17</tspan><tspan font-size="8.6" font-weight="normal" dy="1.9" fill="#111" stroke="#111" stroke-width="0.15">4</tspan></text></g>
</svg></body></html>
